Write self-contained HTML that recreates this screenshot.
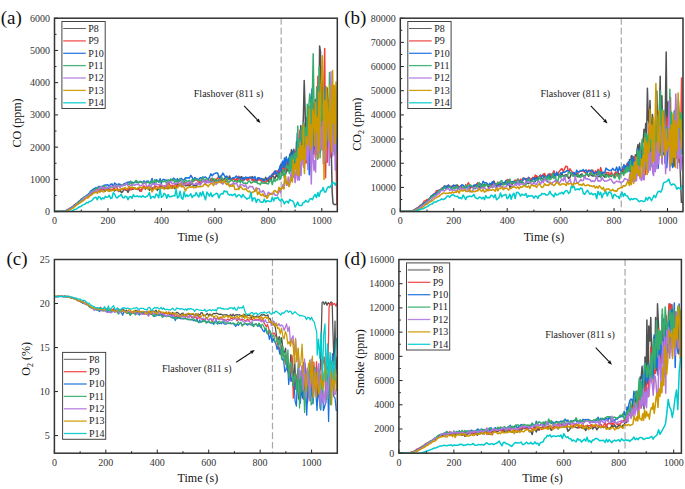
<!DOCTYPE html>
<html><head><meta charset="utf-8"><style>
html,body{margin:0;padding:0;background:#fff;}
body{width:685px;height:489px;overflow:hidden;font-family:"Liberation Serif", serif;}
svg{display:block;}
</style></head><body>
<svg width="685" height="489" viewBox="0 0 685 489" font-family='"Liberation Serif", serif'><rect width="685" height="489" fill="#fff"/><clipPath id="clipa"><rect x="54.5" y="18.2" width="282.80" height="193.40"/></clipPath><clipPath id="clipb"><rect x="400.3" y="18.2" width="282.70" height="193.40"/></clipPath><clipPath id="clipc"><rect x="54.4" y="259.5" width="282.90" height="193.70"/></clipPath><clipPath id="clipd"><rect x="398.9" y="259.5" width="282.50" height="193.70"/></clipPath><line x1="281.17" y1="18.2" x2="281.17" y2="211.6" stroke="#a8a8a8" stroke-width="1.2" stroke-dasharray="6.6,3.0"/><line x1="621.28" y1="18.2" x2="621.28" y2="211.6" stroke="#a8a8a8" stroke-width="1.2" stroke-dasharray="6.6,3.0"/><line x1="272.49" y1="259.5" x2="272.49" y2="453.2" stroke="#a8a8a8" stroke-width="1.2" stroke-dasharray="6.6,3.0"/><line x1="625.06" y1="259.5" x2="625.06" y2="453.2" stroke="#a8a8a8" stroke-width="1.2" stroke-dasharray="6.6,3.0"/><g clip-path="url(#clipa)"><g style="filter:blur(0.35px)"><polyline points="54.5,211.6 55.8,211.6 57.2,211.6 58.5,211.6 59.8,211.6 61.2,211.6 62.5,211.5 63.9,211.2 65.2,210.9 66.5,210.5 67.9,209.8 69.2,209.1 70.5,208.3 71.9,208.0 73.2,206.7 74.5,205.9 75.9,204.9 77.2,203.7 78.6,203.2 79.9,202.0 81.2,201.5 82.6,200.2 83.9,198.5 85.2,198.1 86.6,197.4 87.9,196.4 89.2,195.2 90.6,194.0 91.9,193.8 93.3,193.1 94.6,191.5 95.9,192.5 97.3,191.5 98.6,190.4 99.9,191.9 101.3,189.7 102.6,189.8 103.9,189.7 105.3,191.1 106.6,189.4 108.0,190.6 109.3,191.0 110.6,189.6 112.0,190.6 113.3,189.4 114.6,191.0 116.0,189.6 117.3,189.8 118.7,191.5 120.0,190.1 121.3,192.5 122.7,191.8 124.0,188.4 125.3,189.9 126.7,189.9 128.0,192.3 129.3,189.7 130.7,189.2 132.0,189.5 133.4,189.1 134.7,187.9 136.0,189.3 137.4,188.9 138.7,188.8 140.0,191.2 141.4,189.9 142.7,188.2 144.0,187.8 145.4,189.1 146.7,187.7 148.1,187.2 149.4,190.3 150.7,188.6 152.1,187.8 153.4,188.9 154.7,187.7 156.1,188.6 157.4,190.4 158.7,188.2 160.1,187.0 161.4,186.1 162.8,187.9 164.1,187.3 165.4,188.1 166.8,185.5 168.1,188.6 169.4,187.2 170.8,187.7 172.1,187.7 173.4,186.4 174.8,188.6 176.1,187.0 177.5,183.5 178.8,184.5 180.1,185.6 181.5,185.8 182.8,183.7 184.1,184.1 185.5,185.9 186.8,185.3 188.1,185.4 189.5,185.5 190.8,184.7 192.2,183.0 193.5,186.0 194.8,185.4 196.2,186.0 197.5,184.3 198.8,183.3 200.2,183.0 201.5,183.0 202.8,179.9 204.2,181.9 205.5,181.3 206.9,180.0 208.2,182.0 209.5,181.6 210.9,180.6 212.2,179.6 213.5,181.7 214.9,180.7 216.2,180.5 217.6,181.8 218.9,181.4 220.2,176.1 221.6,181.0 222.9,179.8 224.2,179.0 225.6,177.6 226.9,177.6 228.2,179.5 229.6,176.0 230.9,180.8 232.3,179.4 233.6,178.1 234.9,180.5 236.3,179.4 237.6,177.5 238.9,178.3 240.3,177.4 241.6,176.7 242.9,180.9 244.3,177.9 245.6,177.5 247.0,178.8 248.3,179.1 249.6,177.6 251.0,177.3 252.3,176.6 253.6,180.5 255.0,178.9 256.3,180.4 257.6,180.0 259.0,178.2 260.3,179.2 261.7,181.7 263.0,178.8 264.3,180.9 265.7,177.4 267.0,179.5 268.3,181.5 269.7,176.6 271.0,180.4 272.3,175.0 273.7,176.8 275.0,178.5 276.4,175.1 277.7,176.9 278.5,172.8 279.4,177.9 280.3,165.6 281.1,164.4 282.0,174.5 282.8,168.0 283.7,170.8 284.5,166.7 285.4,174.2 286.2,172.7 287.1,163.1 288.0,171.1 288.8,165.9 289.7,154.6 290.5,166.9 291.4,149.7 292.2,151.3 293.1,167.1 293.9,149.2 294.8,167.7 295.7,161.7 296.5,141.8 297.4,150.6 298.2,164.0 299.1,140.7 299.9,150.9 300.8,125.5 301.6,146.6 302.5,141.0 303.4,116.1 304.2,80.4 305.1,110.0 305.9,152.1 306.8,117.8 307.6,144.3 308.5,153.1 309.3,106.8 310.2,146.3 311.1,102.7 311.9,138.6 312.8,103.0 313.6,154.6 314.5,142.2 315.3,99.5 316.2,149.4 317.0,133.3 317.9,105.0 318.7,133.2 319.6,45.9 320.5,52.1 321.3,140.8 322.2,66.5 323.0,103.4 323.9,102.7 324.7,137.8 325.6,93.7 326.4,148.4 327.3,88.1 328.2,117.2 329.0,129.0 329.9,148.2 330.7,122.9 332.2,192.3 333.0,203.2 334.1,204.5 337.3,204.5" fill="none" stroke="#515151" stroke-width="1.5" stroke-linejoin="round"/><polyline points="54.5,211.6 55.8,211.6 57.2,211.6 58.5,211.6 59.8,211.6 61.2,211.6 62.5,211.4 63.9,211.1 65.2,210.7 66.5,210.2 67.9,209.4 69.2,208.8 70.5,208.0 71.9,207.0 73.2,206.0 74.5,204.9 75.9,203.8 77.2,203.5 78.6,201.8 79.9,201.0 81.2,199.1 82.6,199.0 83.9,197.8 85.2,197.2 86.6,195.8 87.9,195.3 89.2,194.3 90.6,193.0 91.9,192.5 93.3,191.6 94.6,190.7 95.9,189.0 97.3,188.8 98.6,189.8 99.9,189.1 101.3,189.1 102.6,189.7 103.9,187.6 105.3,189.0 106.6,188.9 108.0,187.5 109.3,190.0 110.6,189.3 112.0,189.5 113.3,189.0 114.6,188.2 116.0,186.5 117.3,188.4 118.7,190.5 120.0,189.7 121.3,188.8 122.7,188.6 124.0,189.4 125.3,189.7 126.7,188.9 128.0,189.7 129.3,187.5 130.7,189.7 132.0,188.8 133.4,187.9 134.7,188.0 136.0,188.8 137.4,189.6 138.7,188.8 140.0,189.4 141.4,191.2 142.7,187.5 144.0,185.8 145.4,188.1 146.7,186.6 148.1,188.0 149.4,186.2 150.7,187.9 152.1,189.7 153.4,189.1 154.7,186.0 156.1,186.2 157.4,187.1 158.7,188.8 160.1,184.2 161.4,185.3 162.8,188.0 164.1,186.0 165.4,185.5 166.8,188.8 168.1,183.2 169.4,184.0 170.8,186.8 172.1,185.4 173.4,187.1 174.8,184.0 176.1,186.0 177.5,185.7 178.8,186.4 180.1,183.4 181.5,183.3 182.8,183.6 184.1,185.0 185.5,182.8 186.8,182.9 188.1,185.2 189.5,183.4 190.8,183.2 192.2,181.3 193.5,180.6 194.8,180.4 196.2,179.9 197.5,180.2 198.8,183.2 200.2,181.1 201.5,179.4 202.8,180.7 204.2,181.4 205.5,182.9 206.9,178.5 208.2,182.2 209.5,181.9 210.9,178.7 212.2,178.5 213.5,179.9 214.9,179.1 216.2,179.8 217.6,178.0 218.9,176.5 220.2,182.5 221.6,179.6 222.9,179.3 224.2,179.8 225.6,181.6 226.9,181.0 228.2,177.8 229.6,179.0 230.9,179.1 232.3,180.3 233.6,178.8 234.9,179.7 236.3,179.3 237.6,181.3 238.9,176.2 240.3,180.2 241.6,179.9 242.9,180.0 244.3,179.6 245.6,178.0 247.0,180.2 248.3,179.9 249.6,178.2 251.0,178.2 252.3,180.8 253.6,178.8 255.0,180.9 256.3,182.3 257.6,180.1 259.0,180.0 260.3,179.8 261.7,181.1 263.0,181.9 264.3,180.9 265.7,183.5 267.0,179.5 268.3,177.9 269.7,178.8 271.0,176.4 272.3,174.7 273.7,172.3 275.0,174.3 276.4,170.9 277.7,171.9 278.5,170.0 279.4,171.9 280.3,167.2 281.1,170.9 282.0,165.6 282.8,171.5 283.7,165.0 284.5,169.9 285.4,167.6 286.2,161.2 287.1,167.7 288.0,169.2 288.8,169.6 289.7,165.3 290.5,167.8 291.4,157.6 292.2,169.3 293.1,160.9 293.9,150.7 294.8,160.5 295.7,151.2 296.5,160.3 297.4,159.0 298.2,142.9 299.1,166.5 299.9,130.3 300.8,151.1 301.6,149.5 302.5,136.0 303.4,165.6 304.2,124.1 305.1,149.2 305.9,163.2 306.8,160.5 307.6,116.3 308.5,160.6 309.3,155.5 310.2,108.2 311.1,152.0 311.9,157.4 312.8,102.6 313.6,103.1 314.5,108.7 315.3,157.8 316.2,112.4 317.0,154.3 317.9,76.2 318.7,104.8 319.6,110.0 320.5,84.1 321.3,147.7 322.2,106.9 323.0,127.4 323.9,92.0 324.7,48.5 325.6,177.8 326.4,114.1 327.3,162.3 328.2,131.9 329.0,99.0 329.9,157.6 330.7,154.7 331.6,102.4 332.4,143.2 333.3,110.3 334.1,151.1 335.0,100.4 335.9,150.1 336.9,204.2 337.3,204.2" fill="none" stroke="#F14040" stroke-width="1.5" stroke-linejoin="round"/><polyline points="54.5,211.6 55.8,211.6 57.2,211.6 58.5,211.6 59.8,211.6 61.2,211.6 62.5,211.6 63.9,211.3 65.2,210.9 66.5,210.6 67.9,209.8 69.2,208.9 70.5,208.2 71.9,207.1 73.2,206.4 74.5,205.1 75.9,204.2 77.2,203.0 78.6,201.7 79.9,200.7 81.2,199.6 82.6,198.4 83.9,197.3 85.2,196.8 86.6,195.4 87.9,194.7 89.2,193.2 90.6,191.2 91.9,190.4 93.3,189.1 94.6,188.5 95.9,187.6 97.3,188.0 98.6,186.5 99.9,186.5 101.3,186.7 102.6,186.3 103.9,185.5 105.3,185.0 106.6,184.9 108.0,184.8 109.3,186.9 110.6,184.2 112.0,183.9 113.3,186.9 114.6,183.0 116.0,184.1 117.3,184.8 118.7,184.0 120.0,184.3 121.3,185.2 122.7,185.8 124.0,183.5 125.3,183.5 126.7,182.5 128.0,182.2 129.3,182.0 130.7,182.4 132.0,182.1 133.4,182.9 134.7,182.1 136.0,181.8 137.4,182.6 138.7,182.4 140.0,181.6 141.4,181.8 142.7,182.9 144.0,180.9 145.4,183.3 146.7,181.2 148.1,181.0 149.4,182.9 150.7,182.0 152.1,178.5 153.4,184.0 154.7,182.7 156.1,179.7 157.4,180.5 158.7,182.2 160.1,178.8 161.4,183.3 162.8,179.4 164.1,179.5 165.4,180.1 166.8,180.2 168.1,181.4 169.4,180.4 170.8,180.0 172.1,180.6 173.4,178.2 174.8,179.1 176.1,181.4 177.5,178.6 178.8,181.9 180.1,179.4 181.5,178.4 182.8,180.0 184.1,180.1 185.5,177.7 186.8,177.9 188.1,177.7 189.5,178.0 190.8,175.4 192.2,177.5 193.5,180.5 194.8,177.5 196.2,178.5 197.5,179.3 198.8,179.6 200.2,177.7 201.5,178.0 202.8,177.0 204.2,177.6 205.5,177.0 206.9,178.5 208.2,179.9 209.5,177.2 210.9,173.9 212.2,175.7 213.5,174.2 214.9,173.4 216.2,173.0 217.6,172.9 218.9,177.3 220.2,177.4 221.6,175.7 222.9,173.1 224.2,175.4 225.6,177.2 226.9,176.1 228.2,178.4 229.6,178.8 230.9,179.5 232.3,177.9 233.6,177.7 234.9,177.5 236.3,176.1 237.6,177.5 238.9,177.1 240.3,179.0 241.6,178.8 242.9,177.4 244.3,179.8 245.6,177.2 247.0,177.5 248.3,177.8 249.6,177.3 251.0,177.9 252.3,178.3 253.6,177.7 255.0,176.6 256.3,182.0 257.6,177.8 259.0,177.9 260.3,178.6 261.7,178.6 263.0,180.1 264.3,180.6 265.7,179.2 267.0,179.0 268.3,178.5 269.7,176.3 271.0,176.3 272.3,174.2 273.7,174.2 275.0,170.8 276.4,174.6 277.7,171.9 278.5,171.8 279.4,168.2 280.2,166.2 281.1,171.3 281.9,163.2 282.8,161.1 283.6,167.3 284.5,157.9 285.3,167.3 286.2,156.8 287.0,159.7 287.9,162.9 288.8,158.1 289.6,159.1 290.5,152.9 291.3,164.8 292.2,158.9 293.0,154.9 293.9,150.2 294.7,164.0 295.6,158.6 296.5,154.0 297.3,133.0 298.2,148.4 299.0,141.5 299.9,154.2 300.7,138.3 301.6,157.7 302.4,147.2 303.3,132.6 304.2,153.7 305.0,134.3 305.9,143.3 306.7,127.5 307.6,119.8 308.4,147.0 309.3,174.8 310.1,158.3 311.0,144.6 311.9,89.1 312.7,120.6 313.6,150.0 314.4,123.7 315.3,133.0 316.1,118.9 317.0,145.9 317.8,158.3 318.7,114.9 319.6,131.3 320.4,152.0 321.3,94.9 322.1,137.6 323.0,142.5 323.8,102.1 324.7,162.5 325.5,86.9 326.4,148.6 327.2,130.8 328.1,139.4 329.0,119.5 329.8,92.3 330.7,118.4 331.5,102.2 332.4,119.9 333.2,145.3 334.1,107.6 334.9,115.1 335.8,152.2 336.7,102.1" fill="none" stroke="#1A6FDF" stroke-width="1.5" stroke-linejoin="round"/><polyline points="54.5,211.6 55.8,211.6 57.2,211.6 58.5,211.6 59.8,211.6 61.2,211.6 62.5,211.6 63.9,211.4 65.2,211.1 66.5,210.7 67.9,210.1 69.2,209.3 70.5,208.6 71.9,207.8 73.2,206.8 74.5,205.6 75.9,204.8 77.2,203.0 78.6,203.1 79.9,200.9 81.2,200.0 82.6,198.8 83.9,197.5 85.2,197.2 86.6,196.1 87.9,195.8 89.2,194.2 90.6,192.1 91.9,191.5 93.3,190.5 94.6,189.9 95.9,188.5 97.3,188.0 98.6,188.5 99.9,186.9 101.3,188.2 102.6,188.3 103.9,185.6 105.3,187.4 106.6,187.0 108.0,188.1 109.3,188.1 110.6,187.0 112.0,187.0 113.3,186.7 114.6,185.0 116.0,185.7 117.3,186.8 118.7,185.3 120.0,187.2 121.3,184.7 122.7,184.7 124.0,184.9 125.3,185.0 126.7,183.4 128.0,184.0 129.3,184.6 130.7,181.1 132.0,185.7 133.4,182.9 134.7,182.6 136.0,180.3 137.4,181.6 138.7,182.9 140.0,181.4 141.4,182.3 142.7,183.4 144.0,182.1 145.4,183.1 146.7,182.8 148.1,181.7 149.4,183.3 150.7,183.7 152.1,180.6 153.4,184.3 154.7,179.7 156.1,182.1 157.4,180.8 158.7,181.3 160.1,182.0 161.4,181.0 162.8,181.2 164.1,181.8 165.4,180.6 166.8,184.6 168.1,179.6 169.4,181.8 170.8,178.9 172.1,180.6 173.4,179.8 174.8,182.3 176.1,179.6 177.5,182.6 178.8,180.2 180.1,178.5 181.5,182.2 182.8,181.5 184.1,182.8 185.5,179.9 186.8,181.1 188.1,181.6 189.5,180.2 190.8,183.6 192.2,179.5 193.5,181.7 194.8,179.1 196.2,179.3 197.5,179.7 198.8,180.5 200.2,180.6 201.5,180.6 202.8,177.1 204.2,180.7 205.5,179.8 206.9,178.5 208.2,180.2 209.5,181.4 210.9,182.9 212.2,178.1 213.5,179.2 214.9,179.7 216.2,182.4 217.6,180.2 218.9,179.7 220.2,180.1 221.6,176.9 222.9,180.0 224.2,181.2 225.6,180.0 226.9,177.7 228.2,183.5 229.6,181.4 230.9,180.1 232.3,180.4 233.6,182.1 234.9,181.0 236.3,181.1 237.6,182.3 238.9,180.1 240.3,182.6 241.6,180.2 242.9,182.6 244.3,183.6 245.6,183.0 247.0,183.6 248.3,181.6 249.6,180.8 251.0,183.1 252.3,182.4 253.6,181.5 255.0,182.2 256.3,181.4 257.6,183.5 259.0,183.5 260.3,184.7 261.7,181.8 263.0,183.3 264.3,183.2 265.7,182.6 267.0,183.6 268.3,183.9 269.7,181.1 271.0,179.8 272.3,184.5 273.7,178.5 275.0,181.5 276.4,179.4 277.7,180.0 279.0,173.6 279.9,179.6 280.7,178.7 281.6,173.2 282.5,175.3 283.3,169.7 284.2,177.5 285.0,178.5 285.9,168.7 286.7,165.0 287.6,167.9 288.4,166.0 289.3,173.4 290.1,157.1 291.0,172.3 291.9,155.0 292.7,170.9 293.6,157.7 294.4,153.2 295.3,162.0 296.1,152.6 297.0,167.9 297.8,126.0 298.7,165.6 299.6,139.7 300.4,152.3 301.3,129.5 302.1,126.8 303.0,144.5 303.8,122.8 304.7,141.5 305.5,127.8 306.4,156.4 307.3,104.2 308.1,156.0 309.0,104.0 309.8,93.8 310.7,100.3 311.5,156.8 312.4,93.7 313.2,53.7 314.1,111.6 315.0,145.9 315.8,126.1 316.7,86.8 317.5,159.2 318.4,151.7 319.2,66.5 320.1,157.8 320.9,91.2 321.8,112.3 322.7,129.1 323.5,90.4 324.4,136.2 325.2,151.7 326.1,87.0 326.9,129.4 327.8,116.3 328.6,140.2 329.5,72.6 330.4,94.0 331.2,136.9 332.1,106.2 332.9,139.6 333.8,114.7 334.6,154.7 335.5,143.6 336.3,119.5 337.2,100.2" fill="none" stroke="#37AD6B" stroke-width="1.5" stroke-linejoin="round"/><polyline points="54.5,211.6 55.8,211.6 57.2,211.6 58.5,211.6 59.8,211.6 61.2,211.6 62.5,211.6 63.9,211.4 65.2,211.1 66.5,210.9 67.9,210.2 69.2,209.5 70.5,208.8 71.9,208.1 73.2,207.2 74.5,206.0 75.9,205.5 77.2,203.9 78.6,203.8 79.9,202.2 81.2,201.5 82.6,199.5 83.9,199.1 85.2,197.3 86.6,196.3 87.9,196.2 89.2,194.9 90.6,193.4 91.9,191.7 93.3,192.1 94.6,191.0 95.9,190.8 97.3,191.2 98.6,189.9 99.9,187.7 101.3,186.6 102.6,188.9 103.9,187.2 105.3,188.6 106.6,188.0 108.0,187.5 109.3,187.1 110.6,185.8 112.0,186.7 113.3,186.1 114.6,185.4 116.0,187.5 117.3,185.1 118.7,185.9 120.0,187.5 121.3,185.4 122.7,185.3 124.0,185.2 125.3,184.1 126.7,183.4 128.0,185.8 129.3,186.5 130.7,185.4 132.0,184.2 133.4,184.6 134.7,185.5 136.0,184.2 137.4,184.5 138.7,184.4 140.0,185.9 141.4,185.4 142.7,184.6 144.0,182.9 145.4,183.7 146.7,185.8 148.1,187.0 149.4,184.2 150.7,187.8 152.1,184.1 153.4,183.6 154.7,185.0 156.1,183.5 157.4,184.6 158.7,184.7 160.1,184.4 161.4,184.6 162.8,185.8 164.1,186.0 165.4,187.0 166.8,184.0 168.1,181.6 169.4,182.8 170.8,181.7 172.1,184.0 173.4,183.0 174.8,184.1 176.1,183.1 177.5,183.1 178.8,183.0 180.1,185.7 181.5,181.3 182.8,185.3 184.1,185.0 185.5,184.2 186.8,183.0 188.1,183.6 189.5,182.5 190.8,181.7 192.2,184.3 193.5,184.3 194.8,184.4 196.2,182.9 197.5,184.2 198.8,183.6 200.2,185.3 201.5,183.1 202.8,180.0 204.2,181.0 205.5,184.5 206.9,180.1 208.2,182.9 209.5,181.3 210.9,183.1 212.2,183.0 213.5,181.8 214.9,183.9 216.2,184.4 217.6,181.9 218.9,182.4 220.2,181.7 221.6,183.1 222.9,184.1 224.2,181.9 225.6,182.3 226.9,184.5 228.2,183.7 229.6,186.2 230.9,184.4 232.3,184.1 233.6,182.8 234.9,184.0 236.3,182.7 237.6,185.7 238.9,188.1 240.3,184.2 241.6,184.7 242.9,184.9 244.3,186.4 245.6,184.9 247.0,187.8 248.3,188.5 249.6,186.2 251.0,186.9 252.3,186.4 253.6,188.7 255.0,191.1 256.3,187.8 257.6,188.9 259.0,188.5 260.3,191.7 261.7,192.0 263.0,190.5 264.3,192.5 265.7,195.9 267.0,196.0 268.3,192.3 269.7,193.6 271.0,193.1 272.3,194.7 273.7,192.6 275.0,195.2 276.4,195.3 277.7,195.0 279.0,189.7 280.4,192.6 281.7,187.5 282.2,188.3 283.1,184.5 283.9,188.6 284.8,179.5 285.7,180.4 286.5,185.3 287.4,185.1 288.2,177.1 289.1,186.3 289.9,181.8 290.8,173.7 291.6,180.7 292.5,167.8 293.4,177.5 294.2,168.1 295.1,182.6 295.9,174.2 296.8,163.3 297.6,180.0 298.5,159.4 299.3,180.3 300.2,162.0 301.1,175.5 301.9,150.2 302.8,157.4 303.6,167.3 304.5,149.3 305.3,149.3 306.2,159.9 307.0,136.4 307.9,169.6 308.8,130.7 309.6,133.8 310.5,159.0 311.3,183.9 312.2,135.9 313.0,155.5 313.9,170.2 314.7,160.7 315.6,172.1 316.5,122.8 317.3,150.8 318.2,131.0 319.0,153.4 319.9,145.6 320.7,126.4 321.6,149.7 322.4,121.6 323.3,163.9 324.1,156.0 325.0,123.3 325.9,161.8 326.7,106.5 327.6,116.8 328.4,117.4 329.3,165.4 330.1,113.2 331.0,71.7 331.8,134.1 332.7,155.9 333.6,143.9 334.4,106.8 335.3,169.9 336.1,109.9 337.0,118.4" fill="none" stroke="#B177DE" stroke-width="1.5" stroke-linejoin="round"/><polyline points="54.5,211.6 55.8,211.6 57.2,211.6 58.5,211.6 59.8,211.6 61.2,211.6 62.5,211.6 63.9,211.5 65.2,211.3 66.5,211.1 67.9,210.7 69.2,210.0 70.5,209.3 71.9,208.7 73.2,208.0 74.5,207.0 75.9,205.6 77.2,204.7 78.6,203.6 79.9,203.1 81.2,201.7 82.6,201.2 83.9,200.3 85.2,199.2 86.6,197.1 87.9,198.1 89.2,196.6 90.6,195.2 91.9,194.7 93.3,193.3 94.6,192.8 95.9,192.0 97.3,193.2 98.6,191.4 99.9,191.6 101.3,190.7 102.6,191.8 103.9,192.0 105.3,190.8 106.6,190.0 108.0,190.8 109.3,190.5 110.6,191.0 112.0,190.1 113.3,190.5 114.6,189.7 116.0,189.5 117.3,189.6 118.7,190.6 120.0,189.3 121.3,189.6 122.7,188.4 124.0,188.4 125.3,187.5 126.7,189.1 128.0,188.2 129.3,186.7 130.7,187.9 132.0,187.0 133.4,187.9 134.7,187.7 136.0,189.3 137.4,188.1 138.7,187.4 140.0,187.2 141.4,187.5 142.7,187.3 144.0,188.4 145.4,187.2 146.7,188.1 148.1,189.2 149.4,186.8 150.7,188.2 152.1,191.9 153.4,189.4 154.7,188.2 156.1,189.1 157.4,188.1 158.7,187.2 160.1,189.2 161.4,188.4 162.8,186.5 164.1,189.4 165.4,188.4 166.8,187.5 168.1,185.5 169.4,188.6 170.8,187.0 172.1,188.6 173.4,187.8 174.8,185.7 176.1,187.9 177.5,187.9 178.8,185.6 180.1,183.4 181.5,187.1 182.8,186.1 184.1,187.3 185.5,190.9 186.8,188.0 188.1,187.7 189.5,186.7 190.8,187.3 192.2,186.5 193.5,187.7 194.8,187.6 196.2,187.4 197.5,186.7 198.8,186.6 200.2,186.8 201.5,186.5 202.8,186.2 204.2,184.2 205.5,184.5 206.9,185.0 208.2,186.6 209.5,184.7 210.9,183.7 212.2,183.3 213.5,185.6 214.9,182.4 216.2,182.2 217.6,182.9 218.9,181.9 220.2,181.6 221.6,182.9 222.9,182.1 224.2,180.4 225.6,183.3 226.9,184.7 228.2,182.8 229.6,186.7 230.9,185.7 232.3,186.3 233.6,184.5 234.9,189.5 236.3,189.4 237.6,189.1 238.9,189.4 240.3,186.4 241.6,187.6 242.9,189.3 244.3,189.6 245.6,188.7 247.0,190.5 248.3,191.7 249.6,191.1 251.0,193.6 252.3,192.4 253.6,191.8 255.0,191.4 256.3,188.1 257.6,194.6 259.0,191.8 260.3,194.9 261.7,195.5 263.0,193.8 264.3,196.6 265.7,195.8 267.0,198.4 268.3,196.1 269.7,194.0 271.0,194.2 272.3,194.2 273.7,191.2 275.0,190.5 276.4,191.9 277.7,193.0 279.0,187.3 280.4,190.1 281.7,187.8 283.0,187.5 283.8,189.0 284.7,177.3 285.6,175.4 286.4,183.7 287.3,181.8 288.1,183.9 289.0,186.6 289.8,184.5 290.7,177.2 291.5,179.0 292.4,182.1 293.2,159.9 294.1,174.6 295.0,163.8 295.8,169.0 296.7,158.7 297.5,174.9 298.4,148.4 299.2,175.5 300.1,142.2 300.9,160.7 301.8,145.7 302.7,159.3 303.5,125.3 304.4,173.6 305.2,154.9 306.1,136.4 306.9,142.1 307.8,145.2 308.6,129.4 309.5,108.1 310.4,149.8 311.2,125.0 312.1,146.6 312.9,109.4 313.8,115.0 314.6,145.8 315.5,102.5 316.3,131.7 317.2,117.2 318.1,158.3 318.9,92.0 319.8,150.1 320.6,99.5 321.5,76.2 322.3,55.7 323.2,91.1 324.0,179.4 324.9,100.3 325.8,149.8 326.6,87.2 327.5,112.5 328.3,140.7 329.2,110.0 330.0,85.1 330.9,140.0 331.7,152.0 332.6,70.4 333.5,123.1 334.3,85.2 335.2,143.6 336.0,82.0 336.9,138.1" fill="none" stroke="#CC9900" stroke-width="1.5" stroke-linejoin="round"/><polyline points="54.5,211.6 55.8,211.6 57.2,211.6 58.5,211.6 59.8,211.6 61.2,211.6 62.5,211.6 63.9,211.6 65.2,211.6 66.5,211.6 67.9,211.6 69.2,211.5 70.5,211.3 71.9,211.0 73.2,210.3 74.5,209.4 75.9,209.2 77.2,208.3 78.6,207.3 79.9,206.7 81.2,206.2 82.6,205.1 83.9,204.6 85.2,203.8 86.6,202.5 87.9,202.9 89.2,201.4 90.6,201.2 91.9,200.6 93.3,198.7 94.6,197.6 95.9,197.2 97.3,199.8 98.6,196.6 99.9,197.2 101.3,199.7 102.6,197.8 103.9,198.8 105.3,196.3 106.6,197.3 108.0,197.1 109.3,195.2 110.6,198.6 112.0,198.0 113.3,192.8 114.6,194.0 116.0,197.2 117.3,198.0 118.7,196.2 120.0,195.7 121.3,194.2 122.7,197.7 124.0,197.7 125.3,196.2 126.7,196.6 128.0,199.8 129.3,196.9 130.7,196.5 132.0,198.3 133.4,194.8 134.7,196.6 136.0,196.6 137.4,195.7 138.7,196.8 140.0,196.1 141.4,197.2 142.7,195.6 144.0,196.8 145.4,197.2 146.7,196.4 148.1,195.3 149.4,192.5 150.7,198.5 152.1,196.8 153.4,196.6 154.7,197.9 156.1,193.9 157.4,195.2 158.7,197.8 160.1,189.2 161.4,197.5 162.8,196.5 164.1,193.4 165.4,194.3 166.8,198.2 168.1,194.4 169.4,196.7 170.8,196.8 172.1,196.2 173.4,195.6 174.8,196.1 176.1,189.5 177.5,198.0 178.8,196.7 180.1,191.3 181.5,198.0 182.8,199.3 184.1,191.7 185.5,196.9 186.8,194.8 188.1,196.5 189.5,195.5 190.8,193.7 192.2,197.5 193.5,195.4 194.8,195.9 196.2,192.6 197.5,195.2 198.8,197.1 200.2,192.5 201.5,196.0 202.8,191.6 204.2,195.9 205.5,199.8 206.9,192.1 208.2,194.0 209.5,196.1 210.9,192.9 212.2,196.7 213.5,195.2 214.9,194.3 216.2,193.2 217.6,193.7 218.9,198.0 220.2,194.8 221.6,193.5 222.9,194.1 224.2,190.8 225.6,191.8 226.9,191.3 228.2,194.3 229.6,195.2 230.9,194.4 232.3,195.6 233.6,194.6 234.9,193.9 236.3,196.9 237.6,195.7 238.9,194.8 240.3,195.6 241.6,197.5 242.9,194.3 244.3,196.6 245.6,197.7 247.0,199.1 248.3,198.2 249.6,198.1 251.0,192.3 252.3,201.1 253.6,197.9 255.0,198.1 256.3,202.5 257.6,199.4 259.0,199.5 260.3,201.8 261.7,202.3 263.0,202.3 264.3,199.1 265.7,202.2 267.0,200.7 268.3,201.0 269.7,201.5 271.0,201.5 272.3,197.1 273.7,201.0 275.0,197.9 276.4,198.6 277.7,197.1 279.0,199.6 280.4,200.9 281.7,198.9 283.0,200.9 284.4,204.0 285.7,201.7 287.0,201.3 288.4,203.1 289.7,199.4 291.1,200.6 292.4,200.7 293.7,202.4 295.1,207.1 296.4,204.9 297.7,202.1 299.1,205.5 300.4,205.4 301.7,205.6 303.1,202.5 304.4,202.6 305.8,200.4 307.1,201.7 308.4,201.9 309.8,198.9 311.1,198.6 312.4,199.8 313.8,196.4 315.1,194.4 316.5,197.6 317.8,192.6 319.1,196.6 320.5,191.0 321.8,191.1 323.1,187.4 324.5,192.1 325.8,192.0 327.1,188.2 328.5,186.6 329.8,187.6 331.2,185.2 332.5,182.8 333.8,182.5 335.2,185.1 336.5,182.7" fill="none" stroke="#00CBCC" stroke-width="1.5" stroke-linejoin="round"/></g></g><g clip-path="url(#clipb)"><g style="filter:blur(0.35px)"><polyline points="400.3,211.6 401.6,211.6 403.0,211.6 404.3,211.6 405.6,211.6 407.0,211.6 408.3,211.6 409.7,211.5 411.0,211.2 412.3,210.9 413.7,210.4 415.0,209.7 416.3,209.0 417.7,208.5 419.0,207.6 420.3,206.2 421.7,205.0 423.0,204.2 424.3,203.1 425.7,202.5 427.0,199.9 428.4,200.2 429.7,198.5 431.0,197.1 432.4,195.4 433.7,194.7 435.0,193.7 436.4,193.5 437.7,192.5 439.0,190.3 440.4,190.6 441.7,188.4 443.1,187.9 444.4,185.8 445.7,186.7 447.1,186.0 448.4,186.6 449.7,186.8 451.1,187.1 452.4,186.3 453.7,185.4 455.1,185.7 456.4,185.1 457.7,185.3 459.1,189.1 460.4,187.0 461.8,188.3 463.1,188.1 464.4,188.2 465.8,184.9 467.1,187.4 468.4,188.9 469.8,188.5 471.1,187.0 472.4,187.6 473.8,185.2 475.1,187.8 476.5,184.6 477.8,182.9 479.1,187.5 480.5,183.8 481.8,186.0 483.1,185.4 484.5,184.4 485.8,185.0 487.1,183.8 488.5,187.8 489.8,184.4 491.1,185.7 492.5,184.5 493.8,181.0 495.2,184.6 496.5,183.9 497.8,185.5 499.2,182.9 500.5,183.2 501.8,184.6 503.2,184.1 504.5,182.7 505.8,183.3 507.2,182.3 508.5,180.1 509.9,187.4 511.2,186.1 512.5,183.6 513.9,181.4 515.2,180.4 516.5,183.1 517.9,181.6 519.2,182.1 520.5,181.9 521.9,183.0 523.2,178.0 524.5,179.1 525.9,178.6 527.2,183.1 528.6,183.5 529.9,182.5 531.2,179.0 532.6,179.5 533.9,177.6 535.2,178.5 536.6,176.1 537.9,180.2 539.2,176.7 540.6,175.1 541.9,178.4 543.3,180.0 544.6,174.8 545.9,176.2 547.3,176.5 548.6,174.4 549.9,177.6 551.3,174.3 552.6,177.4 553.9,174.9 555.3,174.7 556.6,173.3 557.9,173.5 559.3,175.6 560.6,175.8 562.0,173.5 563.3,176.5 564.6,175.4 566.0,174.7 567.3,175.6 568.6,178.4 570.0,177.2 571.3,173.4 572.6,173.8 574.0,175.1 575.3,174.5 576.7,174.8 578.0,176.9 579.3,176.1 580.7,174.4 582.0,173.9 583.3,176.6 584.7,176.2 586.0,174.5 587.3,174.0 588.7,176.3 590.0,172.9 591.3,175.3 592.7,176.0 594.0,175.9 595.4,172.2 596.7,174.1 598.0,176.5 599.4,176.3 600.7,176.6 602.0,174.3 603.4,176.0 604.7,177.3 606.0,174.1 607.4,174.4 608.7,175.4 610.1,174.4 611.4,176.5 612.7,174.1 614.1,176.3 615.4,173.6 616.7,173.9 618.1,173.1 619.4,174.4 620.7,173.4 622.1,171.2 622.6,170.7 623.5,174.2 624.3,169.8 625.2,168.5 626.0,170.6 626.9,164.3 627.7,163.2 628.6,169.3 629.5,159.5 630.3,172.0 631.2,156.2 632.0,155.7 632.9,167.3 633.7,158.8 634.6,164.5 635.4,154.8 636.3,161.5 637.1,149.6 638.0,144.6 638.9,167.4 639.7,143.1 640.6,164.5 641.4,159.4 642.3,139.6 643.1,142.3 644.0,129.2 644.8,148.4 645.7,123.4 646.6,137.0 647.4,88.3 648.3,119.6 649.1,123.1 650.0,100.4 650.8,125.9 651.7,143.3 652.5,114.6 653.4,146.0 654.2,161.0 655.1,158.5 656.0,154.3 656.8,90.9 657.7,131.3 658.5,117.4 659.4,111.4 660.2,76.2 661.1,147.7 661.9,95.7 662.8,136.0 663.7,115.4 664.5,133.6 665.4,106.1 666.2,52.0 667.1,146.0 667.9,102.1 668.8,145.9 669.6,117.5 670.5,157.8 671.3,128.6 672.2,129.5 673.1,128.8 673.9,166.5 674.8,164.9 675.6,139.2 676.5,158.2 677.3,134.5 678.2,159.7 679.0,135.7 681.4,202.2 683.0,202.4" fill="none" stroke="#515151" stroke-width="1.5" stroke-linejoin="round"/><polyline points="400.3,211.6 401.6,211.6 403.0,211.6 404.3,211.6 405.6,211.6 407.0,211.6 408.3,211.6 409.7,211.3 411.0,211.0 412.3,210.6 413.7,210.0 415.0,209.3 416.3,208.2 417.7,207.7 419.0,206.5 420.3,205.4 421.7,204.7 423.0,203.3 424.3,200.9 425.7,200.7 427.0,199.7 428.4,199.1 429.7,198.6 431.0,197.3 432.4,195.6 433.7,194.4 435.0,193.4 436.4,190.8 437.7,190.6 439.0,190.6 440.4,189.7 441.7,188.5 443.1,187.7 444.4,187.8 445.7,187.6 447.1,187.4 448.4,185.7 449.7,185.9 451.1,186.4 452.4,186.0 453.7,188.5 455.1,187.1 456.4,186.4 457.7,188.3 459.1,187.7 460.4,185.8 461.8,187.2 463.1,187.2 464.4,187.1 465.8,187.0 467.1,185.1 468.4,182.7 469.8,185.6 471.1,187.3 472.4,187.4 473.8,187.0 475.1,187.8 476.5,184.1 477.8,183.4 479.1,185.7 480.5,185.3 481.8,186.6 483.1,187.2 484.5,185.9 485.8,184.6 487.1,184.6 488.5,185.6 489.8,185.9 491.1,185.2 492.5,182.1 493.8,183.1 495.2,184.0 496.5,185.7 497.8,182.0 499.2,185.3 500.5,185.4 501.8,182.9 503.2,183.1 504.5,182.6 505.8,183.4 507.2,179.4 508.5,180.3 509.9,182.9 511.2,183.1 512.5,182.9 513.9,182.2 515.2,180.2 516.5,181.0 517.9,179.0 519.2,181.9 520.5,179.2 521.9,179.4 523.2,180.1 524.5,178.6 525.9,179.1 527.2,179.0 528.6,177.4 529.9,178.5 531.2,180.4 532.6,177.4 533.9,179.7 535.2,175.0 536.6,176.0 537.9,176.9 539.2,176.8 540.6,175.8 541.9,176.1 543.3,174.1 544.6,173.5 545.9,178.9 547.3,175.7 548.6,174.8 549.9,173.6 551.3,176.6 552.6,173.7 553.9,170.8 555.3,176.4 556.6,174.3 557.9,173.7 559.3,171.4 560.6,169.7 562.0,168.6 563.3,171.7 564.6,168.7 566.0,166.1 567.3,166.6 568.6,172.4 570.0,168.8 571.3,170.9 572.6,172.4 574.0,174.6 575.3,173.7 576.7,173.2 578.0,173.2 579.3,171.7 580.7,170.7 582.0,170.9 583.3,170.9 584.7,172.4 586.0,173.2 587.3,171.4 588.7,169.9 590.0,170.6 591.3,173.3 592.7,170.0 594.0,174.0 595.4,170.9 596.7,173.4 598.0,169.3 599.4,173.2 600.7,167.6 602.0,172.3 603.4,173.0 604.7,172.7 606.0,172.6 607.4,172.7 608.7,172.6 610.1,176.6 611.4,172.0 612.7,175.2 614.1,175.6 615.4,171.9 616.7,172.0 618.1,176.3 619.4,174.6 620.7,173.1 622.1,170.1 622.6,167.7 623.5,170.7 624.3,168.0 625.2,170.9 626.0,170.6 626.9,163.9 627.7,169.6 628.6,165.8 629.5,163.9 630.3,161.2 631.2,166.8 632.0,164.1 632.9,168.5 633.7,156.7 634.6,166.2 635.4,156.4 636.3,171.4 637.1,168.9 638.0,168.5 638.9,151.1 639.7,169.0 640.6,151.0 641.4,163.3 642.3,164.1 643.1,150.4 644.0,163.1 644.8,160.7 645.7,174.5 646.6,155.4 647.4,148.7 648.3,161.0 649.1,123.6 650.0,167.8 650.8,155.0 651.7,136.9 652.5,153.5 653.4,135.8 654.2,156.6 655.1,165.8 656.0,154.0 656.8,154.6 657.7,130.7 658.5,160.0 659.4,111.2 660.2,148.0 661.1,117.8 661.9,162.5 662.8,111.5 663.7,123.2 664.5,114.0 665.4,154.8 666.2,149.8 667.1,117.7 667.9,140.9 668.8,119.6 669.6,165.7 670.5,97.2 671.3,152.3 672.2,120.7 673.1,162.4 673.9,118.8 674.8,110.2 675.6,157.8 676.5,126.6 677.3,154.0 678.2,162.2 679.0,128.3 679.9,141.6 680.8,125.9 681.6,77.9 682.5,143.3" fill="none" stroke="#F14040" stroke-width="1.5" stroke-linejoin="round"/><polyline points="400.3,211.6 401.6,211.6 403.0,211.6 404.3,211.6 405.6,211.6 407.0,211.6 408.3,211.6 409.7,211.5 411.0,211.2 412.3,210.9 413.7,210.6 415.0,209.7 416.3,208.9 417.7,208.3 419.0,207.2 420.3,206.2 421.7,204.9 423.0,203.8 424.3,203.0 425.7,202.3 427.0,201.0 428.4,200.3 429.7,198.7 431.0,196.1 432.4,195.9 433.7,194.3 435.0,194.2 436.4,193.1 437.7,191.4 439.0,190.6 440.4,189.8 441.7,189.2 443.1,187.5 444.4,187.9 445.7,186.5 447.1,187.7 448.4,184.9 449.7,186.9 451.1,188.0 452.4,186.5 453.7,185.1 455.1,186.1 456.4,186.9 457.7,189.0 459.1,187.4 460.4,186.8 461.8,184.7 463.1,185.3 464.4,187.0 465.8,187.8 467.1,186.8 468.4,188.9 469.8,185.6 471.1,186.2 472.4,186.6 473.8,186.3 475.1,184.7 476.5,184.9 477.8,186.8 479.1,186.7 480.5,187.5 481.8,184.9 483.1,181.3 484.5,183.1 485.8,182.6 487.1,183.4 488.5,185.6 489.8,183.3 491.1,184.2 492.5,181.7 493.8,183.6 495.2,183.7 496.5,187.0 497.8,186.0 499.2,183.5 500.5,185.1 501.8,183.5 503.2,182.7 504.5,183.1 505.8,180.5 507.2,185.2 508.5,183.3 509.9,180.4 511.2,182.1 512.5,181.6 513.9,182.2 515.2,181.5 516.5,184.6 517.9,179.3 519.2,183.3 520.5,180.8 521.9,182.4 523.2,179.1 524.5,178.2 525.9,179.4 527.2,182.5 528.6,177.5 529.9,180.7 531.2,181.6 532.6,178.9 533.9,177.8 535.2,181.8 536.6,178.2 537.9,179.5 539.2,178.1 540.6,179.1 541.9,176.2 543.3,175.5 544.6,178.5 545.9,176.7 547.3,177.4 548.6,174.5 549.9,176.7 551.3,178.1 552.6,176.0 553.9,173.5 555.3,177.4 556.6,172.1 557.9,175.6 559.3,176.2 560.6,172.7 562.0,173.5 563.3,172.1 564.6,172.3 566.0,171.4 567.3,170.4 568.6,170.7 570.0,172.2 571.3,173.8 572.6,174.3 574.0,172.3 575.3,175.2 576.7,170.3 578.0,172.0 579.3,171.8 580.7,170.5 582.0,170.7 583.3,169.6 584.7,171.5 586.0,169.9 587.3,172.5 588.7,171.1 590.0,171.1 591.3,170.0 592.7,171.3 594.0,173.5 595.4,173.0 596.7,172.2 598.0,172.1 599.4,175.1 600.7,171.9 602.0,174.3 603.4,172.3 604.7,172.7 606.0,168.1 607.4,169.5 608.7,170.2 610.1,170.6 611.4,170.4 612.7,168.4 614.1,170.0 615.4,170.4 616.7,167.1 618.1,172.2 619.4,166.8 620.7,170.8 622.1,169.7 623.1,167.0 624.0,164.6 624.9,169.2 625.7,165.8 626.6,170.9 627.4,168.2 628.3,161.8 629.1,171.5 630.0,161.2 630.8,167.8 631.7,158.8 632.6,165.4 633.4,157.0 634.3,161.9 635.1,169.8 636.0,159.2 636.8,164.2 637.7,162.9 638.5,154.4 639.4,148.7 640.2,148.9 641.1,164.6 642.0,153.7 642.8,159.4 643.7,153.8 644.5,167.3 645.4,152.2 646.2,168.6 647.1,159.8 647.9,164.4 648.8,147.9 649.7,165.0 650.5,148.8 651.4,154.4 652.2,154.5 653.1,142.3 653.9,158.9 654.8,142.8 655.6,130.5 656.5,158.6 657.3,128.5 658.2,168.2 659.1,135.2 659.9,155.5 660.8,139.6 661.6,149.9 662.5,131.1 663.3,154.7 664.2,136.6 665.0,163.2 665.9,127.5 666.8,167.8 667.6,154.7 668.5,124.2 669.3,137.3 670.2,160.3 671.0,165.1 671.9,121.6 672.7,167.4 673.6,142.4 674.4,124.0 675.3,138.9 676.2,153.7 677.0,149.2 677.9,131.4 678.7,152.1 679.6,136.4 680.4,150.4 681.3,142.1 682.1,153.1 683.0,123.2" fill="none" stroke="#1A6FDF" stroke-width="1.5" stroke-linejoin="round"/><polyline points="400.3,211.6 401.6,211.6 403.0,211.6 404.3,211.6 405.6,211.6 407.0,211.6 408.3,211.6 409.7,211.6 411.0,211.4 412.3,211.0 413.7,210.7 415.0,209.9 416.3,209.4 417.7,208.7 419.0,207.9 420.3,206.8 421.7,205.8 423.0,204.8 424.3,204.1 425.7,202.5 427.0,201.7 428.4,200.5 429.7,198.7 431.0,197.4 432.4,196.8 433.7,195.5 435.0,194.8 436.4,194.6 437.7,192.6 439.0,190.7 440.4,190.6 441.7,189.0 443.1,189.6 444.4,187.2 445.7,188.8 447.1,188.4 448.4,188.4 449.7,186.6 451.1,189.2 452.4,189.6 453.7,187.6 455.1,188.9 456.4,186.4 457.7,187.7 459.1,187.9 460.4,188.5 461.8,188.2 463.1,186.9 464.4,189.5 465.8,185.7 467.1,186.3 468.4,186.2 469.8,184.6 471.1,185.4 472.4,186.6 473.8,188.5 475.1,188.9 476.5,186.0 477.8,186.6 479.1,182.5 480.5,185.6 481.8,187.6 483.1,184.2 484.5,187.2 485.8,184.0 487.1,185.7 488.5,185.2 489.8,185.6 491.1,186.4 492.5,187.8 493.8,186.5 495.2,185.2 496.5,184.2 497.8,182.6 499.2,183.2 500.5,181.4 501.8,180.5 503.2,185.1 504.5,184.5 505.8,184.3 507.2,181.3 508.5,182.5 509.9,179.0 511.2,183.6 512.5,182.8 513.9,183.5 515.2,181.4 516.5,182.0 517.9,179.3 519.2,183.9 520.5,181.9 521.9,181.4 523.2,182.7 524.5,184.1 525.9,185.1 527.2,181.4 528.6,179.1 529.9,180.8 531.2,181.7 532.6,181.1 533.9,182.1 535.2,180.4 536.6,179.8 537.9,180.9 539.2,176.6 540.6,180.0 541.9,181.0 543.3,178.6 544.6,178.6 545.9,176.7 547.3,182.1 548.6,176.3 549.9,179.7 551.3,178.6 552.6,173.6 553.9,178.6 555.3,176.3 556.6,181.5 557.9,180.8 559.3,175.1 560.6,177.8 562.0,175.5 563.3,176.1 564.6,177.5 566.0,176.0 567.3,176.2 568.6,171.8 570.0,173.1 571.3,173.2 572.6,175.9 574.0,176.2 575.3,175.8 576.7,176.2 578.0,174.1 579.3,177.0 580.7,177.4 582.0,174.8 583.3,175.6 584.7,177.7 586.0,173.3 587.3,174.0 588.7,175.2 590.0,174.3 591.3,172.8 592.7,174.5 594.0,174.7 595.4,176.2 596.7,177.1 598.0,173.3 599.4,170.6 600.7,177.7 602.0,174.7 603.4,174.8 604.7,174.8 606.0,177.3 607.4,174.9 608.7,177.2 610.1,175.8 611.4,175.8 612.7,174.4 614.1,178.0 615.4,177.7 616.7,173.6 618.1,175.3 619.4,179.4 620.7,172.6 622.1,172.4 623.4,174.4 623.7,175.4 624.5,169.7 625.4,173.1 626.2,167.4 627.1,172.0 628.0,166.8 628.8,170.5 629.7,169.5 630.5,160.7 631.4,174.2 632.2,169.4 633.1,166.4 633.9,162.8 634.8,171.0 635.7,168.5 636.5,172.3 637.4,149.7 638.2,165.1 639.1,151.2 639.9,167.5 640.8,146.6 641.6,147.4 642.5,139.1 643.3,157.3 644.2,154.0 645.1,132.8 645.9,168.0 646.8,134.0 647.6,151.6 648.5,135.3 649.3,152.4 650.2,138.1 651.0,123.6 651.9,166.8 652.8,149.5 653.6,158.4 654.5,155.8 655.3,120.8 656.2,154.9 657.0,159.1 657.9,115.5 658.7,139.9 659.6,106.4 660.4,90.7 661.3,141.6 662.2,109.8 663.0,151.7 663.9,110.5 664.7,148.2 665.6,153.9 666.4,150.1 667.3,127.4 668.1,125.4 669.0,141.3 669.9,89.3 670.7,166.8 671.6,112.2 672.4,155.6 673.3,131.6 674.1,111.2 675.0,141.4 675.8,149.3 676.7,130.3 677.5,147.5 678.4,99.8 679.3,114.3 680.1,144.6 681.0,112.8 681.8,154.8 682.7,113.3" fill="none" stroke="#37AD6B" stroke-width="1.5" stroke-linejoin="round"/><polyline points="400.3,211.6 401.6,211.6 403.0,211.6 404.3,211.6 405.6,211.6 407.0,211.6 408.3,211.6 409.7,211.6 411.0,211.4 412.3,211.1 413.7,210.7 415.0,210.3 416.3,209.7 417.7,208.9 419.0,208.4 420.3,207.3 421.7,206.2 423.0,205.3 424.3,204.6 425.7,203.6 427.0,202.6 428.4,201.1 429.7,200.9 431.0,200.7 432.4,198.2 433.7,197.4 435.0,196.3 436.4,195.5 437.7,193.7 439.0,193.9 440.4,191.6 441.7,190.2 443.1,190.6 444.4,191.0 445.7,189.9 447.1,188.4 448.4,188.7 449.7,190.6 451.1,189.2 452.4,190.4 453.7,189.8 455.1,190.7 456.4,190.8 457.7,189.2 459.1,189.0 460.4,187.4 461.8,189.7 463.1,188.4 464.4,189.2 465.8,190.2 467.1,190.1 468.4,187.0 469.8,191.9 471.1,191.2 472.4,191.5 473.8,187.8 475.1,187.4 476.5,188.0 477.8,189.3 479.1,189.4 480.5,188.7 481.8,187.9 483.1,187.8 484.5,188.1 485.8,189.1 487.1,190.8 488.5,188.7 489.8,188.0 491.1,186.9 492.5,187.4 493.8,184.2 495.2,187.4 496.5,188.3 497.8,186.6 499.2,186.6 500.5,186.4 501.8,186.5 503.2,187.0 504.5,187.3 505.8,186.6 507.2,185.7 508.5,185.3 509.9,184.0 511.2,185.1 512.5,186.9 513.9,185.7 515.2,184.1 516.5,185.4 517.9,181.6 519.2,185.4 520.5,184.0 521.9,183.7 523.2,184.5 524.5,184.6 525.9,181.4 527.2,182.3 528.6,181.5 529.9,182.7 531.2,184.0 532.6,184.5 533.9,182.3 535.2,184.1 536.6,184.5 537.9,181.4 539.2,181.4 540.6,184.2 541.9,181.3 543.3,182.6 544.6,178.5 545.9,180.9 547.3,180.4 548.6,182.5 549.9,181.8 551.3,184.5 552.6,182.3 553.9,181.9 555.3,180.3 556.6,183.0 557.9,181.6 559.3,183.3 560.6,181.1 562.0,178.9 563.3,180.8 564.6,176.3 566.0,182.3 567.3,183.0 568.6,181.5 570.0,179.0 571.3,183.4 572.6,185.1 574.0,182.8 575.3,176.3 576.7,182.7 578.0,182.4 579.3,181.6 580.7,179.3 582.0,180.8 583.3,180.4 584.7,176.6 586.0,178.9 587.3,178.8 588.7,179.4 590.0,179.5 591.3,181.7 592.7,180.7 594.0,181.7 595.4,180.2 596.7,175.6 598.0,181.2 599.4,180.7 600.7,181.0 602.0,177.7 603.4,180.0 604.7,181.3 606.0,181.1 607.4,180.7 608.7,180.1 610.1,178.7 611.4,179.9 612.7,182.1 614.1,183.5 615.4,182.0 616.7,181.1 618.1,181.9 619.4,181.2 620.7,182.8 622.1,182.1 623.4,181.2 624.7,178.5 626.1,179.2 627.4,179.6 628.0,181.5 628.8,181.0 629.7,174.5 630.5,172.8 631.4,183.8 632.2,171.2 633.1,181.9 633.9,169.8 634.8,181.7 635.7,177.7 636.5,180.8 637.4,166.1 638.2,175.5 639.1,166.4 639.9,178.7 640.8,179.3 641.6,180.5 642.5,165.3 643.3,179.3 644.2,179.8 645.1,155.7 645.9,152.9 646.8,170.3 647.6,155.3 648.5,172.3 649.3,148.0 650.2,170.3 651.0,152.9 651.9,151.2 652.8,173.4 653.6,175.6 654.5,152.9 655.3,171.8 656.2,142.7 657.0,168.7 657.9,133.7 658.7,163.7 659.6,133.7 660.4,126.6 661.3,145.4 662.2,164.3 663.0,128.5 663.9,151.2 664.7,126.6 665.6,173.8 666.4,153.5 667.3,139.4 668.1,150.7 669.0,100.8 669.9,170.8 670.7,153.7 671.6,149.8 672.4,128.1 673.3,148.1 674.1,130.9 675.0,124.1 675.8,93.9 676.7,122.2 677.5,168.3 678.4,122.2 679.3,158.3 680.1,140.4 681.0,170.7 681.8,156.2 682.7,164.3" fill="none" stroke="#B177DE" stroke-width="1.5" stroke-linejoin="round"/><polyline points="400.3,211.6 401.6,211.6 403.0,211.6 404.3,211.6 405.6,211.6 407.0,211.6 408.3,211.6 409.7,211.6 411.0,211.6 412.3,211.3 413.7,211.1 415.0,210.8 416.3,210.3 417.7,209.8 419.0,209.1 420.3,208.6 421.7,207.7 423.0,207.0 424.3,205.8 425.7,204.6 427.0,204.2 428.4,203.1 429.7,201.7 431.0,201.4 432.4,200.7 433.7,199.5 435.0,198.1 436.4,197.7 437.7,196.6 439.0,196.4 440.4,195.0 441.7,194.0 443.1,193.1 444.4,193.1 445.7,193.5 447.1,193.2 448.4,193.3 449.7,192.8 451.1,193.2 452.4,191.8 453.7,193.0 455.1,192.0 456.4,192.3 457.7,190.5 459.1,193.1 460.4,190.1 461.8,190.8 463.1,191.1 464.4,189.5 465.8,191.4 467.1,191.4 468.4,191.2 469.8,189.3 471.1,191.7 472.4,191.9 473.8,191.3 475.1,191.7 476.5,190.7 477.8,191.0 479.1,188.2 480.5,190.5 481.8,191.4 483.1,189.3 484.5,192.2 485.8,191.4 487.1,189.2 488.5,190.8 489.8,189.6 491.1,190.3 492.5,189.8 493.8,189.7 495.2,191.3 496.5,187.8 497.8,190.9 499.2,188.3 500.5,188.6 501.8,186.6 503.2,189.8 504.5,188.4 505.8,188.3 507.2,188.2 508.5,190.2 509.9,188.4 511.2,188.5 512.5,187.2 513.9,186.8 515.2,187.4 516.5,188.0 517.9,186.8 519.2,188.8 520.5,186.6 521.9,187.4 523.2,185.9 524.5,185.6 525.9,186.8 527.2,187.2 528.6,185.9 529.9,188.4 531.2,185.0 532.6,185.2 533.9,186.1 535.2,185.8 536.6,187.4 537.9,185.0 539.2,183.8 540.6,185.9 541.9,187.6 543.3,186.9 544.6,183.7 545.9,185.2 547.3,184.9 548.6,185.6 549.9,183.1 551.3,182.9 552.6,184.6 553.9,185.6 555.3,184.4 556.6,182.5 557.9,182.5 559.3,184.8 560.6,185.0 562.0,183.8 563.3,184.1 564.6,184.1 566.0,185.6 567.3,183.1 568.6,184.2 570.0,183.4 571.3,183.4 572.6,186.3 574.0,183.2 575.3,183.8 576.7,183.1 578.0,183.2 579.3,185.1 580.7,184.4 582.0,185.5 583.3,183.5 584.7,185.4 586.0,185.7 587.3,185.0 588.7,184.9 590.0,186.1 591.3,185.8 592.7,186.7 594.0,185.7 595.4,188.2 596.7,186.3 598.0,188.2 599.4,185.7 600.7,187.4 602.0,189.1 603.4,187.4 604.7,191.5 606.0,189.3 607.4,189.0 608.7,188.8 610.1,190.2 611.4,190.7 612.7,189.4 614.1,191.0 615.4,190.8 616.7,191.4 618.1,188.6 619.4,188.5 620.7,187.6 622.1,187.8 623.4,185.6 624.7,186.2 626.1,185.1 627.4,181.9 628.5,182.4 629.3,185.4 630.2,174.9 631.1,184.8 631.9,165.9 632.8,170.8 633.6,183.6 634.5,161.9 635.3,178.9 636.2,157.7 637.0,172.7 637.9,165.9 638.8,175.7 639.6,170.0 640.5,177.3 641.3,159.1 642.2,166.0 643.0,155.0 643.9,174.0 644.7,137.9 645.6,160.9 646.4,141.5 647.3,174.6 648.2,143.4 649.0,152.3 649.9,109.2 650.7,138.6 651.6,125.3 652.4,162.6 653.3,117.4 654.1,160.8 655.0,125.2 655.9,83.5 656.7,120.3 657.6,145.2 658.4,152.2 659.3,111.0 660.1,141.1 661.0,141.2 661.8,157.3 662.7,111.3 663.5,121.1 664.4,141.3 665.3,155.4 666.1,128.9 667.0,150.1 667.8,142.8 668.7,145.5 669.5,128.9 670.4,165.0 671.2,124.7 672.1,162.5 673.0,114.1 673.8,157.5 674.7,120.8 675.5,167.5 676.4,124.9 677.2,150.3 678.1,93.1 678.9,127.3 679.8,123.2 680.6,119.7 681.5,148.3 682.4,131.0" fill="none" stroke="#CC9900" stroke-width="1.5" stroke-linejoin="round"/><polyline points="400.3,211.6 401.6,211.6 403.0,211.6 404.3,211.6 405.6,211.6 407.0,211.6 408.3,211.6 409.7,211.6 411.0,211.6 412.3,211.6 413.7,211.6 415.0,211.2 416.3,210.7 417.7,210.3 419.0,210.0 420.3,209.4 421.7,209.1 423.0,208.8 424.3,208.1 425.7,207.1 427.0,206.7 428.4,206.0 429.7,204.8 431.0,204.1 432.4,204.0 433.7,202.3 435.0,202.1 436.4,202.0 437.7,200.7 439.0,200.4 440.4,199.9 441.7,198.8 443.1,199.7 444.4,199.0 445.7,198.2 447.1,196.1 448.4,195.9 449.7,197.3 451.1,195.4 452.4,194.8 453.7,195.1 455.1,196.2 456.4,196.4 457.7,196.2 459.1,198.2 460.4,197.6 461.8,198.8 463.1,195.0 464.4,197.1 465.8,199.5 467.1,196.4 468.4,196.8 469.8,195.9 471.1,196.7 472.4,196.3 473.8,194.4 475.1,197.1 476.5,198.4 477.8,198.9 479.1,197.1 480.5,197.2 481.8,198.9 483.1,197.3 484.5,199.6 485.8,195.5 487.1,197.9 488.5,197.5 489.8,197.7 491.1,195.1 492.5,195.7 493.8,197.6 495.2,194.7 496.5,199.7 497.8,198.8 499.2,197.4 500.5,192.9 501.8,196.9 503.2,195.2 504.5,195.1 505.8,194.4 507.2,198.8 508.5,197.4 509.9,194.1 511.2,199.2 512.5,195.0 513.9,193.2 515.2,198.6 516.5,192.5 517.9,192.3 519.2,193.7 520.5,196.1 521.9,194.1 523.2,195.1 524.5,195.2 525.9,193.5 527.2,197.2 528.6,195.6 529.9,196.5 531.2,195.6 532.6,196.0 533.9,198.2 535.2,196.1 536.6,196.3 537.9,198.4 539.2,195.5 540.6,195.6 541.9,193.3 543.3,194.0 544.6,193.6 545.9,194.9 547.3,195.1 548.6,194.1 549.9,191.3 551.3,194.4 552.6,195.0 553.9,196.9 555.3,193.1 556.6,195.1 557.9,194.8 559.3,193.3 560.6,193.4 562.0,192.3 563.3,194.1 564.6,191.9 566.0,190.4 567.3,190.9 568.6,193.5 570.0,192.1 571.3,186.3 572.6,187.8 574.0,186.3 575.3,190.0 576.7,189.2 578.0,188.9 579.3,189.8 580.7,188.0 582.0,188.4 583.3,193.3 584.7,194.4 586.0,192.2 587.3,190.3 588.7,192.3 590.0,194.3 591.3,193.0 592.7,194.8 594.0,194.0 595.4,193.8 596.7,198.6 598.0,191.2 599.4,194.8 600.7,192.3 602.0,197.8 603.4,193.5 604.7,193.5 606.0,191.6 607.4,195.9 608.7,192.2 610.1,192.0 611.4,193.8 612.7,198.5 614.1,194.4 615.4,195.0 616.7,196.4 618.1,196.4 619.4,198.5 620.7,194.6 622.1,192.3 623.4,196.4 624.7,193.5 626.1,195.7 627.4,195.9 628.8,198.6 630.1,200.1 631.4,198.5 632.8,199.6 634.1,198.6 635.4,198.7 636.8,198.9 638.1,200.7 639.4,201.7 640.8,200.8 642.1,200.8 643.5,201.6 644.8,201.3 646.1,197.6 647.5,200.2 648.8,197.2 650.1,197.8 651.5,200.8 652.8,198.0 654.1,195.4 655.5,197.7 656.8,194.2 658.2,191.4 659.5,191.3 660.8,192.1 662.2,189.1 663.5,182.9 664.8,182.3 666.2,181.6 667.5,180.8 668.8,179.0 670.2,183.8 671.5,185.1 672.8,184.1 674.2,184.3 675.5,185.8 676.9,189.2 678.2,187.5 679.5,188.3 680.9,189.3 682.2,185.5" fill="none" stroke="#00CBCC" stroke-width="1.5" stroke-linejoin="round"/></g></g><g clip-path="url(#clipc)"><g style="filter:blur(0.35px)"><polyline points="54.4,296.4 55.7,296.4 57.0,296.6 58.3,296.2 59.5,296.4 60.8,296.4 62.1,296.5 63.4,296.7 64.7,296.2 66.0,296.6 67.3,296.6 68.5,296.9 69.8,297.5 71.1,298.0 72.4,298.0 73.7,298.3 75.0,298.9 76.3,298.9 77.5,300.7 78.8,300.6 80.1,301.1 81.4,302.4 82.7,301.9 84.0,302.5 85.3,303.2 86.5,304.1 87.8,305.1 89.1,305.6 90.4,307.2 91.7,307.9 93.0,308.2 94.3,309.3 95.5,309.3 96.8,308.1 98.1,308.9 99.4,309.7 100.7,307.2 102.0,310.7 103.3,308.7 104.6,309.7 105.8,308.9 107.1,309.8 108.4,310.6 109.7,310.4 111.0,310.2 112.3,309.5 113.6,309.6 114.8,310.6 116.1,310.6 117.4,310.5 118.7,309.2 120.0,311.1 121.3,309.7 122.6,308.7 123.8,309.5 125.1,311.8 126.4,310.2 127.7,312.0 129.0,311.6 130.3,311.9 131.6,312.0 132.8,311.8 134.1,313.5 135.4,310.4 136.7,310.7 138.0,311.9 139.3,313.8 140.6,312.1 141.8,311.4 143.1,312.6 144.4,311.7 145.7,312.6 147.0,312.9 148.3,312.0 149.6,312.0 150.8,311.0 152.1,312.5 153.4,311.1 154.7,311.6 156.0,310.1 157.3,312.9 158.6,311.7 159.8,311.6 161.1,312.4 162.4,313.9 163.7,315.2 165.0,312.7 166.3,313.4 167.6,313.7 168.8,312.3 170.1,313.5 171.4,314.1 172.7,312.4 174.0,314.4 175.3,313.7 176.6,312.4 177.8,312.7 179.1,313.9 180.4,315.0 181.7,313.5 183.0,313.0 184.3,314.9 185.6,314.4 186.8,314.2 188.1,314.2 189.4,315.0 190.7,314.4 192.0,314.1 193.3,314.6 194.6,315.5 195.9,313.7 197.1,315.7 198.4,313.9 199.7,315.6 201.0,312.7 202.3,312.9 203.6,315.9 204.9,315.4 206.1,314.8 207.4,313.5 208.7,315.6 210.0,313.9 211.3,316.0 212.6,314.2 213.9,313.3 215.1,313.8 216.4,313.1 217.7,313.6 219.0,314.6 220.3,314.1 221.6,314.4 222.9,315.1 224.1,314.8 225.4,314.9 226.7,314.7 228.0,315.6 229.3,316.0 230.6,314.4 231.9,316.0 233.1,314.1 234.4,316.2 235.7,314.9 237.0,314.6 238.3,315.0 239.6,314.6 240.9,315.9 242.1,315.5 243.4,317.0 244.7,314.4 246.0,315.9 247.3,315.9 248.6,315.3 249.9,314.8 251.1,318.8 252.4,315.9 253.7,316.5 255.0,317.3 256.3,316.2 257.6,316.0 258.9,316.3 260.1,316.2 261.4,314.6 262.7,315.1 264.0,314.4 265.3,315.7 266.6,315.7 267.9,314.8 268.9,318.9 270.2,318.6 271.5,323.3 272.7,324.9 274.0,324.5 275.3,327.4 276.6,336.2 277.9,340.5 279.2,336.4 280.5,344.6 281.7,337.6 283.0,350.5 284.3,352.9 285.6,348.1 286.9,369.0 288.2,371.9 289.5,375.4 290.8,354.7 292.0,358.6 293.3,386.2 294.6,357.4 295.9,389.4 297.2,377.0 298.5,399.0 299.8,394.1 301.0,377.1 302.3,397.3 303.6,362.3 304.9,363.2 306.2,377.8 307.5,402.5 308.8,389.7 310.0,364.0 311.3,371.6 312.6,399.3 313.9,367.5 315.2,389.4 316.5,375.7 317.8,394.6 319.0,371.5 320.3,369.7 322.1,302.6 323.2,301.8 324.4,304.4 325.7,301.8 327.0,305.3 328.3,302.6 329.6,304.4 331.1,301.8 332.2,304.4 332.9,329.9 334.0,365.2 335.0,321.1 336.0,374.0 337.3,356.4" fill="none" stroke="#515151" stroke-width="1.25" stroke-linejoin="round"/><polyline points="54.4,296.5 55.7,296.7 57.0,296.5 58.3,296.1 59.5,296.1 60.8,296.2 62.1,296.4 63.4,296.4 64.7,296.3 66.0,296.1 67.3,296.7 68.5,296.6 69.8,297.6 71.1,297.4 72.4,297.7 73.7,298.8 75.0,298.5 76.3,299.4 77.5,300.0 78.8,301.0 80.1,301.7 81.4,302.2 82.7,301.9 84.0,302.2 85.3,304.5 86.5,303.7 87.8,304.5 89.1,306.4 90.4,307.0 91.7,307.6 93.0,308.1 94.3,309.6 95.5,309.4 96.8,308.7 98.1,309.9 99.4,308.7 100.7,307.7 102.0,309.5 103.3,311.1 104.6,309.8 105.8,310.1 107.1,308.9 108.4,311.4 109.7,311.6 111.0,309.3 112.3,310.2 113.6,308.8 114.8,310.7 116.1,310.5 117.4,311.2 118.7,309.3 120.0,312.2 121.3,309.9 122.6,310.4 123.8,311.3 125.1,311.5 126.4,312.7 127.7,311.2 129.0,312.6 130.3,312.2 131.6,312.5 132.8,313.0 134.1,312.8 135.4,313.3 136.7,313.0 138.0,312.7 139.3,312.0 140.6,313.3 141.8,313.5 143.1,312.7 144.4,314.3 145.7,313.6 147.0,314.5 148.3,311.5 149.6,313.9 150.8,311.9 152.1,313.9 153.4,313.8 154.7,313.5 156.0,314.3 157.3,313.9 158.6,314.4 159.8,314.5 161.1,312.7 162.4,316.0 163.7,313.0 165.0,313.3 166.3,313.3 167.6,313.8 168.8,312.0 170.1,316.7 171.4,314.4 172.7,314.4 174.0,315.2 175.3,316.3 176.6,316.3 177.8,316.6 179.1,316.0 180.4,317.1 181.7,315.9 183.0,315.0 184.3,316.9 185.6,316.8 186.8,316.2 188.1,317.4 189.4,316.9 190.7,315.9 192.0,318.0 193.3,316.5 194.6,317.4 195.9,317.0 197.1,319.7 198.4,315.9 199.7,317.8 201.0,317.8 202.3,319.6 203.6,319.6 204.9,320.0 206.1,318.2 207.4,319.2 208.7,320.3 210.0,318.6 211.3,319.6 212.6,321.6 213.9,317.0 215.1,318.2 216.4,318.9 217.7,317.7 219.0,319.3 220.3,317.6 221.6,317.8 222.9,319.3 224.1,319.7 225.4,320.7 226.7,320.1 228.0,319.1 229.3,320.5 230.6,318.5 231.9,318.3 233.1,319.2 234.4,318.8 235.7,318.0 237.0,320.9 238.3,318.8 239.6,319.9 240.9,319.6 242.1,319.1 243.4,319.7 244.7,320.3 246.0,321.0 247.3,319.1 248.6,320.3 249.9,319.8 251.1,319.2 252.4,320.0 253.7,318.2 255.0,319.3 256.3,319.7 257.6,320.0 258.9,318.8 260.1,319.2 261.4,321.4 262.7,317.8 263.7,322.4 265.0,324.5 266.3,326.8 267.6,324.6 268.9,329.3 270.2,334.4 271.5,333.9 272.7,334.0 274.0,333.0 275.3,334.7 276.6,339.2 277.9,346.2 279.2,347.5 280.5,354.6 281.7,345.6 283.0,355.9 284.3,355.5 285.6,364.2 286.9,356.1 288.2,371.1 289.5,365.3 290.8,380.9 292.0,355.3 293.3,398.2 294.6,382.9 295.9,373.9 297.2,380.4 298.5,367.2 299.8,384.0 301.0,377.0 302.3,365.5 303.6,399.4 304.9,377.2 306.2,374.8 307.5,389.8 308.8,377.4 310.0,400.1 311.3,384.0 312.6,392.8 313.9,362.0 315.2,389.0 316.5,361.7 317.8,397.2 319.0,376.9 320.3,384.1 321.6,360.0 322.9,363.7 324.2,356.8 325.5,394.6 326.8,395.7 328.0,366.6 329.1,307.0 330.1,303.5 331.1,305.3 332.2,302.6 333.4,304.4 334.7,303.5 336.0,306.2 337.3,302.6" fill="none" stroke="#F14040" stroke-width="1.25" stroke-linejoin="round"/><polyline points="54.4,296.6 55.7,296.7 57.0,296.3 58.3,296.7 59.5,296.5 60.8,296.3 62.1,296.4 63.4,296.6 64.7,296.8 66.0,296.7 67.3,296.8 68.5,296.3 69.8,297.5 71.1,297.7 72.4,297.3 73.7,298.0 75.0,298.1 76.3,299.3 77.5,300.5 78.8,300.3 80.1,301.0 81.4,301.8 82.7,303.3 84.0,303.0 85.3,303.0 86.5,304.6 87.8,305.0 89.1,306.2 90.4,307.7 91.7,308.1 93.0,308.6 94.3,310.0 95.5,309.5 96.8,310.1 98.1,309.8 99.4,311.5 100.7,310.3 102.0,310.0 103.3,309.4 104.6,309.2 105.8,310.5 107.1,311.3 108.4,311.5 109.7,312.1 111.0,312.4 112.3,310.8 113.6,311.4 114.8,312.1 116.1,310.7 117.4,311.2 118.7,312.3 120.0,311.2 121.3,312.0 122.6,315.2 123.8,312.3 125.1,310.9 126.4,311.4 127.7,313.2 129.0,313.0 130.3,315.1 131.6,313.3 132.8,313.0 134.1,312.0 135.4,314.1 136.7,311.1 138.0,314.0 139.3,315.1 140.6,312.2 141.8,312.8 143.1,312.9 144.4,312.8 145.7,311.4 147.0,312.8 148.3,314.9 149.6,314.5 150.8,314.3 152.1,314.2 153.4,315.4 154.7,316.4 156.0,314.5 157.3,314.7 158.6,315.6 159.8,315.2 161.1,314.5 162.4,314.4 163.7,316.6 165.0,315.4 166.3,316.7 167.6,315.9 168.8,315.1 170.1,316.2 171.4,315.1 172.7,317.3 174.0,316.8 175.3,320.6 176.6,317.9 177.8,317.1 179.1,317.9 180.4,318.7 181.7,318.7 183.0,318.8 184.3,318.8 185.6,317.8 186.8,319.1 188.1,319.7 189.4,319.0 190.7,319.3 192.0,319.3 193.3,320.5 194.6,320.5 195.9,320.2 197.1,319.8 198.4,322.5 199.7,320.3 201.0,322.1 202.3,321.7 203.6,320.8 204.9,320.9 206.1,321.4 207.4,322.6 208.7,321.5 210.0,322.9 211.3,323.1 212.6,323.0 213.9,324.3 215.1,321.0 216.4,320.7 217.7,323.1 219.0,323.8 220.3,323.0 221.6,323.6 222.9,321.7 224.1,323.9 225.4,324.2 226.7,323.9 228.0,322.9 229.3,323.3 230.6,323.7 231.9,323.5 233.1,323.0 234.4,324.7 235.7,326.5 237.0,324.1 238.3,325.4 239.6,323.7 240.9,323.0 242.1,325.1 243.4,324.5 244.7,323.9 246.0,323.7 247.3,325.1 248.6,324.4 249.9,323.8 251.1,323.8 252.4,325.8 253.7,324.7 255.0,324.6 256.3,324.0 257.6,326.3 258.9,325.9 259.1,323.6 260.4,327.1 261.7,327.9 263.0,330.7 264.3,331.8 265.5,328.3 266.8,332.7 268.1,332.2 269.4,339.3 270.7,334.1 272.0,342.2 273.3,338.5 274.5,341.4 275.8,343.5 277.1,349.3 278.4,346.3 279.7,354.0 281.0,348.8 282.3,360.0 283.5,359.2 284.8,372.0 286.1,369.4 287.4,359.5 288.7,384.5 290.0,371.9 291.3,381.4 292.6,377.2 293.8,377.8 295.1,401.2 296.4,406.1 297.7,370.3 299.0,379.8 300.3,403.3 301.6,387.9 302.8,398.7 304.1,387.9 305.4,388.2 306.7,415.1 308.0,385.7 309.3,374.7 310.6,400.7 311.8,387.7 313.1,403.8 314.4,374.6 315.7,390.0 317.0,410.5 318.3,386.4 319.6,402.3 320.8,410.0 322.1,375.1 323.4,410.5 324.7,406.2 326.0,402.0 327.3,366.9 328.6,421.4 329.8,370.7 331.1,400.7 332.4,353.7 333.7,396.3 335.0,397.8 336.3,411.0" fill="none" stroke="#1A6FDF" stroke-width="1.25" stroke-linejoin="round"/><polyline points="54.4,296.3 55.7,296.7 57.0,296.3 58.3,296.4 59.5,296.4 60.8,296.6 62.1,296.4 63.4,296.9 64.7,296.1 66.0,296.5 67.3,296.8 68.5,296.8 69.8,297.2 71.1,297.5 72.4,297.9 73.7,298.4 75.0,299.1 76.3,298.9 77.5,300.0 78.8,300.4 80.1,300.5 81.4,301.6 82.7,302.1 84.0,303.7 85.3,303.7 86.5,304.3 87.8,304.7 89.1,306.6 90.4,307.2 91.7,308.1 93.0,307.4 94.3,309.2 95.5,309.4 96.8,309.8 98.1,310.1 99.4,310.4 100.7,308.7 102.0,310.8 103.3,310.2 104.6,311.0 105.8,310.4 107.1,309.0 108.4,311.1 109.7,310.1 111.0,312.0 112.3,311.1 113.6,311.0 114.8,311.1 116.1,310.2 117.4,312.8 118.7,314.1 120.0,311.1 121.3,312.3 122.6,311.5 123.8,311.1 125.1,311.4 126.4,313.3 127.7,313.3 129.0,312.2 130.3,315.4 131.6,312.1 132.8,312.3 134.1,312.6 135.4,314.9 136.7,313.8 138.0,312.9 139.3,314.5 140.6,314.4 141.8,313.3 143.1,311.5 144.4,312.5 145.7,312.3 147.0,311.5 148.3,313.6 149.6,314.6 150.8,312.8 152.1,313.1 153.4,316.5 154.7,314.6 156.0,316.2 157.3,314.7 158.6,314.7 159.8,314.7 161.1,315.5 162.4,317.5 163.7,315.6 165.0,315.7 166.3,316.5 167.6,315.5 168.8,316.5 170.1,316.4 171.4,317.7 172.7,318.1 174.0,318.4 175.3,317.6 176.6,318.6 177.8,318.3 179.1,317.4 180.4,316.5 181.7,318.8 183.0,318.2 184.3,318.5 185.6,318.9 186.8,318.5 188.1,319.7 189.4,319.7 190.7,320.1 192.0,319.7 193.3,318.5 194.6,319.8 195.9,321.4 197.1,320.9 198.4,322.0 199.7,322.7 201.0,321.8 202.3,320.6 203.6,321.6 204.9,320.4 206.1,323.2 207.4,322.1 208.7,320.7 210.0,322.6 211.3,321.8 212.6,323.4 213.9,321.8 215.1,322.5 216.4,323.1 217.7,324.2 219.0,321.1 220.3,322.4 221.6,321.9 222.9,322.6 224.1,321.3 225.4,322.7 226.7,323.4 228.0,323.2 229.3,323.6 230.6,322.6 231.9,324.0 233.1,323.7 234.4,323.4 235.7,324.6 237.0,324.2 238.3,321.9 239.6,323.8 240.9,322.2 242.1,326.1 243.4,324.8 244.7,322.9 246.0,323.8 247.3,323.8 248.6,323.8 249.9,324.8 251.1,324.6 252.4,322.7 253.7,326.7 255.0,323.8 256.3,323.9 257.6,326.2 258.9,323.1 260.1,324.7 260.9,327.3 262.2,324.2 263.5,325.6 264.8,329.0 266.1,328.0 267.3,334.2 268.6,330.3 269.9,330.4 271.2,334.2 272.5,336.9 273.8,334.7 275.1,342.3 276.3,342.0 277.6,337.4 278.9,346.6 280.2,337.8 281.5,358.9 282.8,346.3 284.1,361.8 285.3,352.1 286.6,367.9 287.9,349.8 289.2,378.3 290.5,361.9 291.8,365.1 293.1,386.1 294.4,373.1 295.6,377.0 296.9,392.8 298.2,362.9 299.5,408.1 300.8,371.2 302.1,391.4 303.4,380.9 304.6,412.5 305.9,378.3 307.2,369.9 308.5,396.4 309.8,360.1 311.1,404.8 312.4,402.9 313.6,377.9 314.9,367.0 316.2,375.8 317.5,374.6 318.8,368.6 320.1,408.6 321.4,379.0 322.6,396.7 323.9,373.3 325.2,366.4 326.5,399.4 327.8,380.6 329.1,369.5 330.4,404.6 331.6,361.2 332.9,368.2 334.2,386.6 335.5,371.3 336.8,391.1" fill="none" stroke="#37AD6B" stroke-width="1.25" stroke-linejoin="round"/><polyline points="54.4,296.3 55.7,296.6 57.0,296.6 58.3,296.6 59.5,296.5 60.8,296.3 62.1,295.8 63.4,296.6 64.7,296.6 66.0,296.4 67.3,296.7 68.5,296.9 69.8,297.6 71.1,298.0 72.4,297.4 73.7,298.3 75.0,298.9 76.3,299.0 77.5,300.4 78.8,300.5 80.1,301.2 81.4,301.6 82.7,302.3 84.0,303.1 85.3,303.6 86.5,304.2 87.8,305.2 89.1,305.7 90.4,306.3 91.7,307.8 93.0,308.8 94.3,309.9 95.5,309.6 96.8,309.7 98.1,309.5 99.4,309.2 100.7,310.7 102.0,309.8 103.3,309.7 104.6,310.2 105.8,311.5 107.1,312.6 108.4,312.2 109.7,311.2 111.0,313.0 112.3,312.0 113.6,310.6 114.8,312.2 116.1,311.6 117.4,309.7 118.7,312.5 120.0,312.9 121.3,311.5 122.6,311.4 123.8,310.7 125.1,311.6 126.4,312.1 127.7,311.6 129.0,311.2 130.3,311.8 131.6,312.3 132.8,312.0 134.1,312.5 135.4,312.1 136.7,313.8 138.0,313.4 139.3,309.9 140.6,314.4 141.8,313.9 143.1,314.4 144.4,314.4 145.7,311.6 147.0,312.0 148.3,316.4 149.6,314.2 150.8,313.9 152.1,312.7 153.4,313.6 154.7,312.8 156.0,313.9 157.3,313.6 158.6,312.8 159.8,313.9 161.1,314.0 162.4,313.1 163.7,314.8 165.0,314.6 166.3,316.5 167.6,315.3 168.8,315.2 170.1,315.3 171.4,316.5 172.7,315.6 174.0,314.8 175.3,313.2 176.6,315.2 177.8,316.4 179.1,315.0 180.4,316.7 181.7,314.8 183.0,317.2 184.3,316.6 185.6,315.4 186.8,316.2 188.1,318.0 189.4,315.6 190.7,315.1 192.0,316.9 193.3,317.3 194.6,314.4 195.9,316.5 197.1,317.5 198.4,317.4 199.7,319.2 201.0,318.6 202.3,318.9 203.6,318.1 204.9,319.6 206.1,317.7 207.4,318.9 208.7,319.9 210.0,318.6 211.3,318.8 212.6,320.2 213.9,317.7 215.1,319.1 216.4,320.2 217.7,318.4 219.0,318.4 220.3,319.7 221.6,318.9 222.9,320.0 224.1,321.5 225.4,319.4 226.7,322.0 228.0,321.4 229.3,320.1 230.6,320.0 231.9,320.7 233.1,319.0 234.4,318.8 235.7,318.4 237.0,319.4 238.3,318.6 239.6,318.3 240.9,320.5 242.1,320.4 243.4,322.0 244.7,322.1 246.0,321.0 247.3,321.0 248.6,320.9 249.9,322.0 251.1,323.5 252.4,320.5 253.7,320.5 255.0,320.4 256.3,320.3 257.6,320.2 258.9,320.8 260.1,319.7 261.4,321.9 262.7,320.7 264.0,322.4 265.3,319.7 266.6,322.4 267.9,322.8 269.1,322.1 270.4,321.2 271.2,325.4 272.5,324.7 273.8,321.0 275.1,324.3 276.3,323.2 277.6,326.0 278.9,323.6 280.2,326.2 281.5,324.8 282.8,325.9 284.1,330.4 285.3,327.3 286.6,323.9 287.9,331.5 289.2,326.6 290.5,343.4 291.8,338.4 293.1,335.7 294.4,355.6 295.6,338.4 296.9,362.0 298.2,349.0 299.5,378.8 300.8,372.6 302.1,365.8 303.4,390.1 304.6,359.0 305.9,397.4 307.2,368.0 308.5,372.1 309.8,400.8 311.1,359.1 312.4,385.7 313.6,397.5 314.9,369.9 316.2,390.1 317.5,369.1 318.8,363.5 320.1,405.3 321.4,389.3 322.6,402.6 323.9,391.0 325.2,403.8 326.5,380.1 327.8,398.6 329.1,360.3 330.4,379.9 331.6,395.7 332.9,367.1 334.2,394.8 335.5,394.0 336.8,379.6" fill="none" stroke="#B177DE" stroke-width="1.25" stroke-linejoin="round"/><polyline points="54.4,296.5 55.7,296.4 57.0,296.7 58.3,296.2 59.5,296.4 60.8,296.4 62.1,296.3 63.4,296.5 64.7,296.6 66.0,296.4 67.3,296.7 68.5,296.8 69.8,297.4 71.1,297.8 72.4,298.0 73.7,298.5 75.0,298.9 76.3,299.3 77.5,300.3 78.8,300.2 80.1,301.1 81.4,301.5 82.7,302.2 84.0,302.3 85.3,303.1 86.5,303.8 87.8,305.1 89.1,305.9 90.4,305.8 91.7,307.9 93.0,307.9 94.3,308.6 95.5,308.4 96.8,309.2 98.1,308.6 99.4,309.0 100.7,309.5 102.0,309.3 103.3,308.8 104.6,310.0 105.8,308.4 107.1,309.4 108.4,308.6 109.7,310.1 111.0,309.2 112.3,310.4 113.6,310.7 114.8,311.1 116.1,311.1 117.4,311.0 118.7,310.2 120.0,309.5 121.3,311.7 122.6,310.3 123.8,310.6 125.1,311.7 126.4,312.7 127.7,311.1 129.0,309.7 130.3,310.1 131.6,312.0 132.8,313.1 134.1,310.3 135.4,312.0 136.7,311.4 138.0,310.9 139.3,311.6 140.6,312.3 141.8,311.4 143.1,311.3 144.4,312.0 145.7,313.7 147.0,313.6 148.3,311.4 149.6,311.2 150.8,314.0 152.1,310.9 153.4,311.5 154.7,312.6 156.0,312.6 157.3,314.0 158.6,310.1 159.8,311.4 161.1,312.2 162.4,312.0 163.7,312.4 165.0,313.1 166.3,311.6 167.6,314.4 168.8,313.0 170.1,312.9 171.4,313.2 172.7,313.7 174.0,312.7 175.3,314.6 176.6,314.0 177.8,315.1 179.1,315.9 180.4,316.1 181.7,315.1 183.0,314.4 184.3,314.6 185.6,315.4 186.8,315.9 188.1,313.1 189.4,313.6 190.7,314.2 192.0,313.9 193.3,313.3 194.6,316.3 195.9,315.4 197.1,313.6 198.4,315.3 199.7,315.7 201.0,317.0 202.3,315.0 203.6,314.4 204.9,315.7 206.1,317.4 207.4,318.1 208.7,316.2 210.0,315.4 211.3,314.8 212.6,315.8 213.9,317.2 215.1,316.3 216.4,315.7 217.7,316.6 219.0,319.0 220.3,316.8 221.6,317.4 222.9,316.2 224.1,317.9 225.4,316.3 226.7,315.6 228.0,317.7 229.3,316.0 230.6,317.6 231.9,316.5 233.1,318.0 234.4,317.6 235.7,317.4 237.0,316.0 238.3,318.6 239.6,316.2 240.9,316.1 242.1,317.5 243.4,313.9 244.7,318.4 246.0,315.5 247.3,318.2 248.6,317.7 249.9,318.4 251.1,315.1 252.4,317.0 253.7,318.5 255.0,317.1 256.3,317.9 257.6,317.5 258.9,317.2 260.1,318.7 261.4,316.7 262.7,319.1 264.0,318.0 265.3,316.9 266.6,318.3 267.9,317.0 268.6,320.6 269.9,322.5 271.2,321.5 272.5,324.0 273.8,322.9 275.1,326.2 276.3,323.0 277.6,328.5 278.9,327.8 280.2,333.9 281.5,328.2 282.8,336.0 284.1,338.9 285.3,331.5 286.6,334.8 287.9,344.0 289.2,341.6 290.5,346.4 291.8,338.9 293.1,345.5 294.4,363.4 295.6,339.7 296.9,361.4 298.2,348.0 299.5,367.2 300.8,363.6 302.1,344.1 303.4,373.4 304.6,374.9 305.9,391.1 307.2,382.8 308.5,364.2 309.8,361.2 311.1,383.0 312.4,356.1 313.6,397.1 314.9,371.5 316.2,397.0 317.5,372.2 318.8,394.1 320.1,387.4 321.4,375.0 322.6,388.8 323.9,379.6 325.2,361.5 326.5,379.5 327.8,369.7 329.1,364.1 330.4,361.8 331.6,405.0 332.9,371.8 334.2,390.6 335.5,369.3 336.8,390.6" fill="none" stroke="#CC9900" stroke-width="1.25" stroke-linejoin="round"/><polyline points="54.4,296.5 55.7,296.4 57.0,296.6 58.3,296.4 59.5,296.6 60.8,296.4 62.1,296.5 63.4,296.4 64.7,296.6 66.0,296.7 67.3,296.1 68.5,296.2 69.8,296.7 71.1,296.8 72.4,297.5 73.7,298.2 75.0,298.1 76.3,298.1 77.5,298.9 78.8,299.2 80.1,299.1 81.4,300.0 82.7,300.4 84.0,300.4 85.3,301.0 86.5,302.2 87.8,303.2 89.1,303.1 90.4,304.9 91.7,305.5 93.0,306.3 94.3,306.5 95.5,307.9 96.8,307.6 98.1,308.1 99.4,307.7 100.7,308.4 102.0,308.6 103.3,308.3 104.6,306.7 105.8,308.7 107.1,310.2 108.4,305.8 109.7,310.4 111.0,308.7 112.3,307.2 113.6,305.7 114.8,309.0 116.1,309.6 117.4,307.9 118.7,309.1 120.0,311.0 121.3,308.9 122.6,308.0 123.8,307.6 125.1,308.1 126.4,308.7 127.7,308.0 129.0,308.5 130.3,309.1 131.6,309.0 132.8,308.5 134.1,308.1 135.4,308.2 136.7,307.5 138.0,309.5 139.3,308.8 140.6,308.4 141.8,308.3 143.1,308.3 144.4,309.3 145.7,309.3 147.0,310.2 148.3,307.5 149.6,307.3 150.8,309.7 152.1,310.5 153.4,308.4 154.7,307.5 156.0,308.1 157.3,307.5 158.6,308.5 159.8,308.9 161.1,307.3 162.4,309.3 163.7,308.0 165.0,309.7 166.3,309.4 167.6,309.3 168.8,309.7 170.1,310.2 171.4,309.2 172.7,308.2 174.0,310.0 175.3,310.1 176.6,308.0 177.8,308.6 179.1,308.4 180.4,309.3 181.7,308.6 183.0,309.0 184.3,310.0 185.6,309.0 186.8,310.4 188.1,308.4 189.4,309.3 190.7,308.6 192.0,309.1 193.3,309.3 194.6,311.5 195.9,309.5 197.1,309.2 198.4,310.0 199.7,310.2 201.0,310.1 202.3,310.5 203.6,310.4 204.9,309.3 206.1,311.8 207.4,310.7 208.7,310.2 210.0,309.7 211.3,310.8 212.6,309.8 213.9,310.4 215.1,309.8 216.4,311.1 217.7,307.8 219.0,308.2 220.3,307.7 221.6,308.8 222.9,308.4 224.1,309.1 225.4,309.1 226.7,308.8 228.0,309.4 229.3,307.8 230.6,308.2 231.9,307.7 233.1,309.0 234.4,307.4 235.7,309.9 237.0,310.1 238.3,307.0 239.6,308.2 240.9,307.5 242.1,308.1 243.4,305.8 244.7,310.8 246.0,313.8 247.3,314.5 248.6,314.1 249.9,313.9 251.1,312.6 252.4,312.7 253.7,314.8 255.0,313.2 256.3,313.0 257.6,314.5 258.9,314.1 260.1,313.0 261.4,312.5 262.7,313.1 264.0,311.9 265.3,312.7 266.6,313.3 267.9,312.3 269.1,311.7 270.4,313.8 271.7,314.4 273.0,312.5 274.3,313.1 275.6,311.2 276.9,311.7 278.1,312.7 279.4,313.5 280.7,315.2 282.0,312.7 283.3,313.4 284.6,312.3 285.9,310.9 287.1,310.5 288.4,312.4 289.7,311.1 291.0,311.6 292.3,314.2 293.6,313.1 294.9,311.7 296.2,312.9 297.4,314.2 298.7,314.8 300.0,316.0 301.3,315.5 302.6,315.9 303.9,316.2 305.2,316.8 306.4,319.6 307.7,317.4 309.0,317.5 310.3,319.9 311.6,317.2 312.9,320.4 314.2,321.9 315.4,327.1 316.7,331.8 317.2,355.1 318.5,339.1 319.8,358.4 321.1,332.5 322.4,379.3 323.7,334.4 325.0,323.9 326.2,380.2 327.5,343.9 328.8,376.6 330.1,352.3 331.4,372.1 332.7,361.4 334.0,379.8 335.2,358.2 336.5,338.1" fill="none" stroke="#00CBCC" stroke-width="1.25" stroke-linejoin="round"/></g></g><g clip-path="url(#clipd)"><g style="filter:blur(0.35px)"><polyline points="398.9,453.2 400.3,453.2 401.6,453.2 403.0,453.2 404.4,453.2 405.8,453.2 407.1,453.2 408.5,453.1 409.9,452.8 411.3,452.6 412.6,452.1 414.0,451.6 415.4,451.1 416.8,450.5 418.1,449.6 419.5,448.7 420.9,448.0 422.3,447.4 423.6,446.0 425.0,445.8 426.4,444.5 427.8,443.5 429.1,443.2 430.5,442.7 431.9,440.5 433.3,440.2 434.6,439.1 436.0,439.2 437.4,437.3 438.7,436.0 440.1,435.1 441.5,436.1 442.9,435.2 444.2,434.3 445.6,435.1 447.0,434.0 448.4,433.6 449.7,434.8 451.1,433.7 452.5,434.1 453.9,434.1 455.2,434.8 456.6,435.1 458.0,433.6 459.4,432.0 460.7,434.2 462.1,435.3 463.5,434.0 464.9,436.3 466.2,434.1 467.6,433.9 469.0,433.6 470.3,432.2 471.7,433.7 473.1,433.9 474.5,433.4 475.8,431.9 477.2,435.3 478.6,432.4 480.0,431.1 481.3,433.2 482.7,433.7 484.1,433.1 485.5,430.0 486.8,431.6 488.2,434.1 489.6,434.0 491.0,430.4 492.3,431.7 493.7,432.3 495.1,431.2 496.5,432.0 497.8,431.4 499.2,430.3 500.6,428.8 502.0,431.7 503.3,428.2 504.7,432.6 506.1,431.4 507.4,432.3 508.8,430.4 510.2,430.6 511.6,432.0 512.9,431.9 514.3,429.4 515.7,431.2 517.1,432.3 518.4,431.1 519.8,429.3 521.2,430.1 522.6,428.8 523.9,427.9 525.3,428.8 526.7,427.7 528.1,428.4 529.4,431.8 530.8,430.9 532.2,434.5 533.6,427.5 534.9,429.2 536.3,431.9 537.7,428.3 539.1,430.2 540.4,427.4 541.8,427.4 543.2,426.6 544.5,425.1 545.9,428.2 547.3,426.9 548.7,426.5 550.0,428.1 551.4,430.3 552.8,428.0 554.2,426.0 555.5,426.4 556.9,427.7 558.3,428.8 559.7,425.8 561.0,424.8 562.4,424.2 563.8,426.7 565.2,426.8 566.5,426.4 567.9,431.3 569.3,429.9 570.7,427.9 572.0,427.5 573.4,426.1 574.8,426.6 576.1,427.5 577.5,427.8 578.9,427.8 580.3,426.9 581.6,427.9 583.0,427.8 584.4,428.4 585.8,430.5 587.1,425.3 588.5,428.0 589.9,428.6 591.3,426.3 592.6,429.0 594.0,427.2 595.4,426.7 596.8,429.7 598.1,427.9 599.5,426.9 600.9,427.5 602.3,427.1 603.6,427.5 605.0,427.1 606.4,426.0 607.8,428.0 609.1,429.0 610.5,428.4 611.9,424.9 613.2,427.3 614.6,424.9 616.0,427.3 617.4,427.0 618.7,425.2 620.1,425.2 621.5,427.3 622.9,425.1 624.2,425.2 624.8,423.3 625.8,418.2 626.7,422.4 627.7,414.2 628.6,411.6 629.6,415.3 630.6,408.4 631.5,417.1 632.5,403.1 633.4,401.8 634.4,395.8 635.4,403.2 636.3,395.3 637.3,404.6 638.3,390.8 639.2,393.2 640.2,376.9 641.1,378.6 642.1,366.3 643.1,387.6 644.0,408.7 645.0,357.1 646.0,393.1 646.9,320.0 647.9,383.8 648.8,326.1 649.8,340.9 650.8,317.6 651.7,360.2 652.7,358.8 653.6,337.6 654.6,372.5 655.6,317.6 656.5,370.5 657.5,303.7 658.5,325.6 659.4,349.6 660.4,332.9 661.3,369.8 662.3,314.6 663.3,355.3 664.2,319.8 665.2,339.7 666.1,315.7 667.1,345.2 668.1,338.3 669.0,308.6 670.0,304.0 671.0,309.3 671.9,304.7 672.9,338.6 673.8,313.4 674.8,331.4 675.8,313.8 676.7,344.5 677.7,346.6 678.7,339.0 679.6,318.4 680.6,340.9" fill="none" stroke="#515151" stroke-width="1.5" stroke-linejoin="round"/><polyline points="398.9,453.2 400.3,453.2 401.6,453.2 403.0,453.2 404.4,453.2 405.8,453.2 407.1,453.0 408.5,452.8 409.9,452.6 411.3,452.1 412.6,451.6 414.0,451.1 415.4,450.4 416.8,449.3 418.1,448.8 419.5,448.0 420.9,447.2 422.3,446.3 423.6,445.6 425.0,444.4 426.4,443.2 427.8,443.2 429.1,442.6 430.5,442.3 431.9,440.8 433.3,439.3 434.6,439.2 436.0,438.3 437.4,436.9 438.7,436.1 440.1,435.0 441.5,435.0 442.9,434.0 444.2,433.8 445.6,433.0 447.0,433.5 448.4,433.7 449.7,431.6 451.1,435.3 452.5,433.1 453.9,433.3 455.2,433.8 456.6,433.4 458.0,432.5 459.4,432.0 460.7,433.6 462.1,433.6 463.5,433.2 464.9,433.3 466.2,431.8 467.6,432.2 469.0,432.5 470.3,433.9 471.7,431.6 473.1,432.8 474.5,433.7 475.8,431.3 477.2,432.9 478.6,432.6 480.0,431.4 481.3,432.8 482.7,430.6 484.1,432.3 485.5,429.9 486.8,434.2 488.2,432.3 489.6,430.3 491.0,431.1 492.3,434.7 493.7,430.7 495.1,430.9 496.5,429.7 497.8,428.9 499.2,430.6 500.6,430.0 502.0,432.3 503.3,431.3 504.7,428.5 506.1,429.9 507.4,431.1 508.8,429.4 510.2,429.4 511.6,427.7 512.9,428.2 514.3,430.7 515.7,428.9 517.1,430.0 518.4,428.2 519.8,429.0 521.2,428.7 522.6,427.2 523.9,427.5 525.3,427.6 526.7,428.7 528.1,428.7 529.4,426.5 530.8,428.3 532.2,429.3 533.6,429.4 534.9,426.6 536.3,428.8 537.7,428.6 539.1,428.1 540.4,427.9 541.8,429.4 543.2,427.2 544.5,427.5 545.9,427.7 547.3,426.8 548.7,428.7 550.0,426.6 551.4,427.0 552.8,428.3 554.2,425.8 555.5,427.6 556.9,426.5 558.3,422.9 559.7,426.2 561.0,424.7 562.4,427.3 563.8,424.6 565.2,425.5 566.5,426.3 567.9,424.0 569.3,422.5 570.7,425.6 572.0,427.2 573.4,425.4 574.8,424.2 576.1,425.2 577.5,424.7 578.9,427.8 580.3,426.2 581.6,426.0 583.0,425.0 584.4,426.9 585.8,426.4 587.1,425.6 588.5,425.8 589.9,425.7 591.3,424.5 592.6,427.0 594.0,425.5 595.4,426.5 596.8,424.9 598.1,426.3 599.5,424.9 600.9,424.3 602.3,427.2 603.6,425.7 605.0,422.2 606.4,426.6 607.8,423.5 609.1,423.6 610.5,424.0 611.9,422.7 613.2,424.7 614.6,421.6 616.0,422.8 617.4,424.7 618.7,424.0 620.1,424.2 621.5,422.1 622.9,420.7 624.2,421.7 624.8,419.2 625.8,416.4 626.7,420.8 627.7,411.9 628.6,409.8 629.6,411.7 630.6,414.6 631.5,405.6 632.5,415.0 633.4,406.0 634.4,408.7 635.4,403.0 636.3,406.0 637.3,392.3 638.3,417.7 639.2,386.1 640.2,400.3 641.1,408.1 642.1,399.4 643.1,388.5 644.0,399.0 645.0,386.0 646.0,391.6 646.9,377.2 647.9,372.6 648.8,396.5 649.8,370.0 650.8,347.2 651.7,376.0 652.7,358.9 653.6,388.5 654.6,350.0 655.6,373.5 656.5,345.5 657.5,367.7 658.5,328.3 659.4,368.3 660.4,362.4 661.3,354.6 662.3,330.7 663.3,345.0 664.2,376.5 665.2,361.0 666.1,356.7 667.1,352.5 668.1,319.7 669.0,303.7 670.0,331.1 671.0,304.4 671.9,318.0 672.9,332.1 673.8,340.7 674.8,346.9 675.8,311.8 676.7,339.3 677.7,323.1 678.7,354.1 679.6,324.5 680.6,339.6" fill="none" stroke="#F14040" stroke-width="1.5" stroke-linejoin="round"/><polyline points="398.9,453.2 400.3,453.2 401.6,453.2 403.0,453.2 404.4,453.2 405.8,453.2 407.1,453.2 408.5,453.0 409.9,452.8 411.3,452.5 412.6,452.0 414.0,451.5 415.4,450.9 416.8,450.3 418.1,449.5 419.5,448.6 420.9,447.8 422.3,446.8 423.6,446.2 425.0,445.0 426.4,444.2 427.8,443.5 429.1,442.0 430.5,441.5 431.9,440.9 433.3,439.5 434.6,438.8 436.0,437.6 437.4,436.6 438.7,436.4 440.1,434.7 441.5,434.3 442.9,434.0 444.2,433.5 445.6,433.0 447.0,433.3 448.4,433.2 449.7,434.3 451.1,432.9 452.5,433.2 453.9,432.2 455.2,433.7 456.6,433.1 458.0,432.1 459.4,430.9 460.7,432.3 462.1,433.5 463.5,431.9 464.9,433.1 466.2,431.9 467.6,431.0 469.0,432.5 470.3,431.0 471.7,430.2 473.1,431.5 474.5,431.0 475.8,431.9 477.2,429.3 478.6,429.3 480.0,432.0 481.3,429.0 482.7,429.7 484.1,430.5 485.5,432.0 486.8,430.8 488.2,428.9 489.6,430.9 491.0,427.7 492.3,429.7 493.7,430.4 495.1,427.7 496.5,428.8 497.8,428.7 499.2,429.0 500.6,429.0 502.0,430.0 503.3,427.4 504.7,427.3 506.1,429.3 507.4,427.5 508.8,428.3 510.2,425.2 511.6,427.9 512.9,427.7 514.3,426.5 515.7,425.7 517.1,427.4 518.4,427.3 519.8,425.8 521.2,424.6 522.6,426.0 523.9,426.1 525.3,426.5 526.7,426.4 528.1,427.5 529.4,428.0 530.8,426.6 532.2,424.3 533.6,424.7 534.9,426.8 536.3,421.2 537.7,424.6 539.1,425.6 540.4,424.8 541.8,424.3 543.2,425.2 544.5,422.4 545.9,424.1 547.3,424.2 548.7,422.7 550.0,422.1 551.4,423.4 552.8,421.9 554.2,423.9 555.5,422.0 556.9,421.5 558.3,422.6 559.7,421.9 561.0,421.2 562.4,421.4 563.8,422.7 565.2,419.1 566.5,421.1 567.9,420.0 569.3,423.9 570.7,420.7 572.0,421.5 573.4,420.5 574.8,420.7 576.1,420.2 577.5,422.2 578.9,421.2 580.3,422.4 581.6,421.5 583.0,419.3 584.4,420.1 585.8,419.5 587.1,420.0 588.5,419.4 589.9,421.0 591.3,420.9 592.6,421.0 594.0,422.2 595.4,420.6 596.8,420.5 598.1,417.3 599.5,420.8 600.9,418.3 602.3,419.7 603.6,419.8 605.0,419.9 606.4,417.9 607.8,420.9 609.1,416.8 610.5,419.4 611.9,421.7 613.2,420.2 614.6,420.4 616.0,418.8 617.4,419.1 618.7,417.4 620.1,417.0 621.5,416.4 622.9,416.8 624.2,411.3 625.2,415.7 626.2,414.7 627.1,406.9 628.1,411.8 629.0,403.9 630.0,400.5 631.0,399.0 631.9,399.6 632.9,404.0 633.9,391.2 634.8,399.9 635.8,391.8 636.7,400.8 637.7,395.6 638.7,394.5 639.6,394.1 640.6,381.5 641.6,390.5 642.5,375.1 643.5,399.2 644.4,364.8 645.4,380.0 646.4,370.7 647.3,382.7 648.3,363.6 649.2,379.5 650.2,364.9 651.2,371.7 652.1,357.5 653.1,378.3 654.1,335.1 655.0,341.7 656.0,367.2 656.9,341.9 657.9,375.1 658.9,349.0 659.8,358.6 660.8,342.6 661.8,353.2 662.7,352.9 663.7,319.0 664.6,345.4 665.6,331.0 666.6,360.1 667.5,323.4 668.5,352.5 669.4,311.3 670.4,348.7 671.4,310.0 672.3,309.7 673.3,340.0 674.3,303.0 675.2,367.4 676.2,319.7 677.1,346.6 678.1,353.4 679.1,304.1 680.0,352.2 681.0,335.4" fill="none" stroke="#1A6FDF" stroke-width="1.5" stroke-linejoin="round"/><polyline points="398.9,453.2 400.3,453.2 401.6,453.2 403.0,453.2 404.4,453.2 405.8,453.2 407.1,453.2 408.5,453.1 409.9,452.9 411.3,452.6 412.6,452.3 414.0,451.7 415.4,451.0 416.8,450.5 418.1,449.8 419.5,448.8 420.9,448.1 422.3,447.1 423.6,445.7 425.0,445.1 426.4,444.1 427.8,442.9 429.1,442.2 430.5,440.7 431.9,440.9 433.3,439.6 434.6,438.0 436.0,437.8 437.4,436.3 438.7,435.0 440.1,435.0 441.5,434.1 442.9,433.7 444.2,433.1 445.6,432.6 447.0,431.4 448.4,433.2 449.7,432.9 451.1,432.3 452.5,433.0 453.9,431.2 455.2,433.0 456.6,431.4 458.0,431.9 459.4,431.5 460.7,432.6 462.1,430.4 463.5,432.0 464.9,430.6 466.2,431.2 467.6,432.5 469.0,430.8 470.3,431.3 471.7,431.5 473.1,431.5 474.5,431.6 475.8,430.6 477.2,430.6 478.6,433.5 480.0,431.4 481.3,429.8 482.7,430.1 484.1,429.4 485.5,430.8 486.8,430.0 488.2,430.3 489.6,427.8 491.0,428.8 492.3,430.0 493.7,429.6 495.1,428.9 496.5,429.5 497.8,427.2 499.2,428.2 500.6,427.1 502.0,427.5 503.3,428.0 504.7,426.8 506.1,431.3 507.4,427.4 508.8,426.3 510.2,426.4 511.6,427.1 512.9,426.3 514.3,428.7 515.7,424.9 517.1,425.0 518.4,425.1 519.8,426.7 521.2,426.1 522.6,425.0 523.9,424.3 525.3,425.1 526.7,425.3 528.1,425.1 529.4,425.4 530.8,425.1 532.2,423.0 533.6,425.3 534.9,424.8 536.3,423.1 537.7,423.4 539.1,421.7 540.4,422.6 541.8,423.7 543.2,422.0 544.5,424.1 545.9,421.3 547.3,424.7 548.7,419.0 550.0,422.5 551.4,420.5 552.8,424.3 554.2,424.0 555.5,422.9 556.9,422.5 558.3,421.9 559.7,423.4 561.0,423.6 562.4,421.6 563.8,420.4 565.2,423.2 566.5,424.2 567.9,421.7 569.3,421.8 570.7,421.1 572.0,422.5 573.4,420.9 574.8,420.4 576.1,417.9 577.5,421.1 578.9,421.3 580.3,419.7 581.6,421.9 583.0,421.2 584.4,421.9 585.8,420.3 587.1,420.8 588.5,420.9 589.9,420.1 591.3,421.5 592.6,421.9 594.0,419.7 595.4,420.0 596.8,418.5 598.1,420.4 599.5,420.5 600.9,420.0 602.3,418.3 603.6,418.9 605.0,418.2 606.4,417.1 607.8,416.7 609.1,417.2 610.5,416.8 611.9,420.7 613.2,417.4 614.6,417.1 616.0,418.3 617.4,417.8 618.7,417.1 620.1,415.1 621.5,415.9 622.9,413.7 624.2,419.6 624.8,417.9 625.8,416.5 626.7,411.0 627.7,415.6 628.6,409.6 629.6,412.0 630.6,402.2 631.5,412.5 632.5,409.5 633.4,412.3 634.4,397.6 635.4,394.8 636.3,391.1 637.3,407.2 638.3,392.0 639.2,378.6 640.2,403.0 641.1,381.4 642.1,399.4 643.1,395.0 644.0,373.2 645.0,363.0 646.0,368.2 646.9,377.6 647.9,364.9 648.8,371.6 649.8,377.9 650.8,353.2 651.7,381.5 652.7,353.0 653.6,338.7 654.6,369.0 655.6,345.1 656.5,320.4 657.5,357.5 658.5,329.9 659.4,349.3 660.4,331.1 661.3,344.3 662.3,309.1 663.3,327.1 664.2,339.7 665.2,306.9 666.1,320.2 667.1,343.7 668.1,322.3 669.0,318.7 670.0,309.5 671.0,329.3 671.9,312.8 672.9,335.4 673.8,309.3 674.8,345.2 675.8,332.3 676.7,333.5 677.7,307.0 678.7,307.0 679.6,308.2 680.6,320.6" fill="none" stroke="#37AD6B" stroke-width="1.5" stroke-linejoin="round"/><polyline points="398.9,453.2 400.3,453.2 401.6,453.2 403.0,453.2 404.4,453.2 405.8,453.2 407.1,453.2 408.5,453.2 409.9,452.9 411.3,452.7 412.6,452.4 414.0,451.8 415.4,451.3 416.8,450.7 418.1,449.9 419.5,449.0 420.9,448.4 422.3,447.5 423.6,447.1 425.0,445.3 426.4,444.8 427.8,443.4 429.1,442.4 430.5,442.3 431.9,441.0 433.3,439.9 434.6,438.6 436.0,437.9 437.4,438.2 438.7,437.4 440.1,435.9 441.5,434.3 442.9,434.1 444.2,433.4 445.6,434.4 447.0,433.8 448.4,433.6 449.7,433.8 451.1,432.4 452.5,433.4 453.9,431.1 455.2,432.8 456.6,432.8 458.0,433.0 459.4,432.4 460.7,432.9 462.1,432.9 463.5,432.3 464.9,434.9 466.2,433.2 467.6,432.8 469.0,431.1 470.3,433.8 471.7,431.4 473.1,432.1 474.5,431.9 475.8,430.9 477.2,432.5 478.6,431.7 480.0,431.3 481.3,430.8 482.7,431.9 484.1,430.9 485.5,430.9 486.8,428.0 488.2,430.3 489.6,432.4 491.0,430.8 492.3,430.2 493.7,428.8 495.1,430.1 496.5,429.7 497.8,429.9 499.2,429.8 500.6,429.6 502.0,429.1 503.3,427.6 504.7,428.3 506.1,429.8 507.4,428.6 508.8,427.6 510.2,429.7 511.6,429.1 512.9,428.5 514.3,429.2 515.7,429.3 517.1,429.5 518.4,429.3 519.8,427.5 521.2,426.9 522.6,426.3 523.9,427.6 525.3,426.4 526.7,426.5 528.1,426.8 529.4,428.2 530.8,426.8 532.2,426.7 533.6,426.6 534.9,424.9 536.3,426.3 537.7,424.0 539.1,425.9 540.4,425.1 541.8,424.4 543.2,425.3 544.5,427.1 545.9,425.3 547.3,421.9 548.7,425.0 550.0,426.4 551.4,426.4 552.8,425.4 554.2,425.6 555.5,424.1 556.9,425.4 558.3,426.5 559.7,423.8 561.0,425.6 562.4,426.5 563.8,422.7 565.2,425.8 566.5,423.8 567.9,422.8 569.3,422.5 570.7,423.6 572.0,424.2 573.4,423.0 574.8,423.7 576.1,423.8 577.5,422.4 578.9,423.3 580.3,422.9 581.6,422.5 583.0,423.9 584.4,422.1 585.8,421.3 587.1,420.6 588.5,421.3 589.9,423.3 591.3,421.5 592.6,422.6 594.0,421.6 595.4,423.1 596.8,422.4 598.1,421.1 599.5,424.6 600.9,420.4 602.3,421.8 603.6,422.4 605.0,422.6 606.4,419.7 607.8,420.8 609.1,422.4 610.5,422.2 611.9,416.2 613.2,421.3 614.6,422.2 616.0,423.2 617.4,422.7 618.7,421.4 620.1,421.8 621.5,420.4 622.9,422.3 624.2,422.1 625.3,421.5 626.3,420.6 627.3,415.7 628.2,421.4 629.2,412.2 630.1,413.4 631.1,418.5 632.1,409.0 633.0,415.3 634.0,407.4 635.0,415.0 635.9,403.0 636.9,409.2 637.8,413.7 638.8,412.0 639.8,400.8 640.7,407.9 641.7,396.8 642.7,405.7 643.6,389.1 644.6,406.0 645.5,392.0 646.5,407.7 647.5,387.7 648.4,396.8 649.4,390.0 650.3,377.5 651.3,380.9 652.3,384.0 653.2,395.3 654.2,375.2 655.2,376.6 656.1,384.0 657.1,400.1 658.0,396.8 659.0,355.6 660.0,360.2 660.9,382.8 661.9,362.5 662.9,341.6 663.8,374.1 664.8,337.3 665.7,393.3 666.7,330.8 667.7,343.1 668.6,327.5 669.6,358.2 670.5,349.5 671.5,333.0 672.5,356.4 673.4,333.2 674.4,334.5 675.4,355.2 676.3,312.5 677.3,332.8 678.2,348.4 679.2,347.1 680.2,328.6 681.1,348.9" fill="none" stroke="#B177DE" stroke-width="1.5" stroke-linejoin="round"/><polyline points="398.9,453.2 400.3,453.2 401.6,453.2 403.0,453.2 404.4,453.2 405.8,453.2 407.1,453.2 408.5,453.2 409.9,453.0 411.3,452.8 412.6,452.6 414.0,452.1 415.4,451.6 416.8,451.2 418.1,450.7 419.5,449.9 420.9,449.1 422.3,448.2 423.6,447.6 425.0,446.9 426.4,445.6 427.8,445.4 429.1,443.8 430.5,443.6 431.9,442.3 433.3,441.2 434.6,441.3 436.0,440.2 437.4,438.6 438.7,437.7 440.1,437.3 441.5,436.7 442.9,436.6 444.2,436.2 445.6,436.7 447.0,437.0 448.4,434.9 449.7,435.7 451.1,435.1 452.5,436.6 453.9,434.1 455.2,437.5 456.6,434.5 458.0,434.5 459.4,435.3 460.7,434.8 462.1,433.5 463.5,435.2 464.9,433.4 466.2,436.2 467.6,435.6 469.0,436.0 470.3,435.4 471.7,434.4 473.1,435.6 474.5,435.2 475.8,433.9 477.2,434.0 478.6,434.2 480.0,434.3 481.3,432.8 482.7,433.2 484.1,434.3 485.5,431.9 486.8,433.4 488.2,433.5 489.6,433.2 491.0,434.7 492.3,433.2 493.7,432.0 495.1,431.9 496.5,432.4 497.8,433.8 499.2,432.8 500.6,433.7 502.0,431.5 503.3,432.8 504.7,432.6 506.1,432.3 507.4,432.8 508.8,431.4 510.2,432.1 511.6,432.0 512.9,430.1 514.3,433.6 515.7,430.6 517.1,432.0 518.4,431.0 519.8,432.4 521.2,430.7 522.6,431.7 523.9,431.7 525.3,430.3 526.7,429.7 528.1,429.8 529.4,431.4 530.8,430.8 532.2,430.9 533.6,429.1 534.9,430.2 536.3,428.5 537.7,426.5 539.1,427.3 540.4,428.6 541.8,428.3 543.2,429.2 544.5,428.3 545.9,427.1 547.3,429.2 548.7,428.9 550.0,425.0 551.4,427.5 552.8,429.7 554.2,428.5 555.5,427.3 556.9,426.6 558.3,428.7 559.7,427.4 561.0,427.6 562.4,427.3 563.8,426.6 565.2,427.0 566.5,426.6 567.9,426.2 569.3,427.4 570.7,425.6 572.0,427.4 573.4,427.5 574.8,426.5 576.1,424.7 577.5,425.7 578.9,424.7 580.3,426.9 581.6,424.6 583.0,428.8 584.4,427.8 585.8,425.7 587.1,427.5 588.5,429.6 589.9,427.5 591.3,427.3 592.6,424.9 594.0,425.9 595.4,424.6 596.8,425.4 598.1,426.1 599.5,426.8 600.9,427.7 602.3,427.1 603.6,426.5 605.0,426.9 606.4,429.3 607.8,428.5 609.1,427.8 610.5,429.0 611.9,427.4 613.2,427.4 614.6,430.0 616.0,428.8 617.4,428.6 618.7,428.6 620.1,426.0 621.5,427.2 622.9,428.5 624.2,425.0 625.6,424.8 627.0,425.5 628.4,424.2 629.7,425.6 631.1,424.8 632.5,424.5 633.0,423.5 634.0,415.8 635.0,419.4 635.9,420.8 636.9,416.7 637.8,420.9 638.8,411.3 639.8,418.7 640.7,418.9 641.7,420.5 642.7,413.7 643.6,420.2 644.6,409.7 645.5,417.8 646.5,411.5 647.5,416.0 648.4,414.1 649.4,419.2 650.3,411.2 651.3,407.6 652.3,409.1 653.2,402.9 654.2,413.5 655.2,405.9 656.1,397.1 657.1,393.1 658.0,407.5 659.0,389.0 660.0,396.4 660.9,381.9 661.9,393.0 662.9,367.4 663.8,385.5 664.8,346.1 665.7,354.6 666.7,374.2 667.7,362.3 668.6,335.5 669.6,330.0 670.5,336.9 671.5,333.6 672.5,358.6 673.4,329.7 674.4,328.7 675.4,347.8 676.3,316.4 677.3,339.4 678.2,305.6 679.2,317.9 680.2,358.3 681.1,309.8" fill="none" stroke="#CC9900" stroke-width="1.5" stroke-linejoin="round"/><polyline points="398.9,453.2 400.3,453.2 401.6,453.2 403.0,453.2 404.4,453.2 405.8,453.2 407.1,453.2 408.5,453.2 409.9,453.2 411.3,453.2 412.6,453.2 414.0,453.2 415.4,453.2 416.8,453.2 418.1,453.2 419.5,453.2 420.9,453.2 422.3,452.7 423.6,452.2 425.0,451.7 426.4,451.2 427.8,450.7 429.1,450.3 430.5,449.6 431.9,449.2 433.3,448.5 434.6,448.0 436.0,447.8 437.4,447.2 438.7,446.6 440.1,445.9 441.5,446.0 442.9,445.6 444.2,445.2 445.6,445.6 447.0,445.8 448.4,445.2 449.7,445.3 451.1,444.8 452.5,446.0 453.9,445.0 455.2,445.3 456.6,445.3 458.0,445.3 459.4,444.5 460.7,444.3 462.1,444.4 463.5,445.6 464.9,445.0 466.2,445.1 467.6,444.2 469.0,444.4 470.3,444.9 471.7,444.4 473.1,443.5 474.5,445.1 475.8,445.2 477.2,445.0 478.6,444.4 480.0,444.7 481.3,444.6 482.7,444.7 484.1,445.0 485.5,443.6 486.8,442.7 488.2,444.0 489.6,444.5 491.0,443.8 492.3,443.8 493.7,444.7 495.1,443.7 496.5,443.3 497.8,442.5 499.2,441.0 500.6,443.7 502.0,445.8 503.3,442.4 504.7,442.2 506.1,443.8 507.4,443.8 508.8,444.6 510.2,445.5 511.6,446.4 512.9,445.1 514.3,443.3 515.7,442.5 517.1,442.7 518.4,443.0 519.8,442.7 521.2,442.1 522.6,444.6 523.9,444.5 525.3,443.3 526.7,442.2 528.1,443.7 529.4,443.6 530.8,442.4 532.2,444.1 533.6,443.7 534.9,441.9 536.3,443.8 537.7,443.2 539.1,445.5 540.4,442.6 541.8,442.2 543.2,441.7 544.5,438.4 545.9,437.9 547.3,435.4 548.7,436.2 550.0,434.8 551.4,437.0 552.8,436.1 554.2,436.0 555.5,436.5 556.9,436.3 558.3,435.6 559.7,436.4 561.0,435.1 562.4,438.5 563.8,433.6 565.2,436.0 566.5,437.6 567.9,436.7 569.3,438.8 570.7,438.7 572.0,441.0 573.4,439.9 574.8,441.0 576.1,441.9 577.5,438.6 578.9,440.1 580.3,439.8 581.6,442.1 583.0,440.5 584.4,439.1 585.8,441.1 587.1,437.2 588.5,441.7 589.9,440.6 591.3,442.7 592.6,439.9 594.0,440.0 595.4,438.6 596.8,438.4 598.1,439.3 599.5,440.7 600.9,440.4 602.3,440.6 603.6,440.3 605.0,442.4 606.4,439.3 607.8,441.9 609.1,439.7 610.5,441.2 611.9,442.6 613.2,440.8 614.6,440.1 616.0,441.1 617.4,440.2 618.7,439.7 620.1,441.5 621.5,438.9 622.9,440.0 624.2,440.8 625.6,439.7 627.0,440.6 628.4,439.9 629.7,441.4 631.1,440.0 632.5,439.1 633.9,437.0 635.2,439.6 636.6,438.2 638.0,439.7 639.4,437.7 640.7,437.4 642.1,437.8 643.5,439.5 644.9,438.9 646.2,438.3 647.6,438.1 649.0,438.3 650.3,437.1 651.7,436.4 653.1,439.1 654.5,436.8 655.8,436.1 657.2,434.5 658.6,429.8 660.0,434.3 661.3,431.8 662.7,429.4 664.1,426.9 665.5,423.7 666.8,413.6 668.2,399.4 669.6,406.9 671.0,409.9 672.3,417.4 673.7,409.7 675.1,397.6 676.5,390.1 677.8,409.6 679.2,371.9 680.6,356.7" fill="none" stroke="#00CBCC" stroke-width="1.5" stroke-linejoin="round"/></g></g><line x1="54.5" y1="211.60" x2="58.10" y2="211.60" stroke="#222" stroke-width="1"/><text x="49.9" y="215.0" font-size="10" text-anchor="end" fill="#333">0</text><line x1="54.5" y1="179.37" x2="58.10" y2="179.37" stroke="#222" stroke-width="1"/><text x="49.9" y="182.8" font-size="10" text-anchor="end" fill="#333">1000</text><line x1="54.5" y1="147.13" x2="58.10" y2="147.13" stroke="#222" stroke-width="1"/><text x="49.9" y="150.5" font-size="10" text-anchor="end" fill="#333">2000</text><line x1="54.5" y1="114.90" x2="58.10" y2="114.90" stroke="#222" stroke-width="1"/><text x="49.9" y="118.3" font-size="10" text-anchor="end" fill="#333">3000</text><line x1="54.5" y1="82.67" x2="58.10" y2="82.67" stroke="#222" stroke-width="1"/><text x="49.9" y="86.1" font-size="10" text-anchor="end" fill="#333">4000</text><line x1="54.5" y1="50.43" x2="58.10" y2="50.43" stroke="#222" stroke-width="1"/><text x="49.9" y="53.8" font-size="10" text-anchor="end" fill="#333">5000</text><line x1="54.5" y1="18.20" x2="58.10" y2="18.20" stroke="#222" stroke-width="1"/><text x="49.9" y="21.6" font-size="10" text-anchor="end" fill="#333">6000</text><line x1="54.5" y1="195.48" x2="56.50" y2="195.48" stroke="#222" stroke-width="1"/><line x1="54.5" y1="163.25" x2="56.50" y2="163.25" stroke="#222" stroke-width="1"/><line x1="54.5" y1="131.02" x2="56.50" y2="131.02" stroke="#222" stroke-width="1"/><line x1="54.5" y1="98.78" x2="56.50" y2="98.78" stroke="#222" stroke-width="1"/><line x1="54.5" y1="66.55" x2="56.50" y2="66.55" stroke="#222" stroke-width="1"/><line x1="54.5" y1="34.32" x2="56.50" y2="34.32" stroke="#222" stroke-width="1"/><line x1="54.50" y1="211.6" x2="54.50" y2="208.00" stroke="#222" stroke-width="1"/><text x="54.5" y="224.4" font-size="10" text-anchor="middle" fill="#333">0</text><line x1="107.96" y1="211.6" x2="107.96" y2="208.00" stroke="#222" stroke-width="1"/><text x="108.0" y="224.4" font-size="10" text-anchor="middle" fill="#333">200</text><line x1="161.42" y1="211.6" x2="161.42" y2="208.00" stroke="#222" stroke-width="1"/><text x="161.4" y="224.4" font-size="10" text-anchor="middle" fill="#333">400</text><line x1="214.88" y1="211.6" x2="214.88" y2="208.00" stroke="#222" stroke-width="1"/><text x="214.9" y="224.4" font-size="10" text-anchor="middle" fill="#333">600</text><line x1="268.34" y1="211.6" x2="268.34" y2="208.00" stroke="#222" stroke-width="1"/><text x="268.3" y="224.4" font-size="10" text-anchor="middle" fill="#333">800</text><line x1="321.80" y1="211.6" x2="321.80" y2="208.00" stroke="#222" stroke-width="1"/><text x="321.8" y="224.4" font-size="10" text-anchor="middle" fill="#333">1000</text><line x1="81.23" y1="211.6" x2="81.23" y2="209.60" stroke="#222" stroke-width="1"/><line x1="134.69" y1="211.6" x2="134.69" y2="209.60" stroke="#222" stroke-width="1"/><line x1="188.15" y1="211.6" x2="188.15" y2="209.60" stroke="#222" stroke-width="1"/><line x1="241.61" y1="211.6" x2="241.61" y2="209.60" stroke="#222" stroke-width="1"/><line x1="295.07" y1="211.6" x2="295.07" y2="209.60" stroke="#222" stroke-width="1"/><rect x="54.5" y="18.2" width="282.80" height="193.40" fill="none" stroke="#333" stroke-width="1.5"/><line x1="400.3" y1="211.60" x2="403.90" y2="211.60" stroke="#222" stroke-width="1"/><text x="395.7" y="215.0" font-size="10" text-anchor="end" fill="#333">0</text><line x1="400.3" y1="187.42" x2="403.90" y2="187.42" stroke="#222" stroke-width="1"/><text x="395.7" y="190.8" font-size="10" text-anchor="end" fill="#333">10000</text><line x1="400.3" y1="163.25" x2="403.90" y2="163.25" stroke="#222" stroke-width="1"/><text x="395.7" y="166.7" font-size="10" text-anchor="end" fill="#333">20000</text><line x1="400.3" y1="139.07" x2="403.90" y2="139.07" stroke="#222" stroke-width="1"/><text x="395.7" y="142.5" font-size="10" text-anchor="end" fill="#333">30000</text><line x1="400.3" y1="114.90" x2="403.90" y2="114.90" stroke="#222" stroke-width="1"/><text x="395.7" y="118.3" font-size="10" text-anchor="end" fill="#333">40000</text><line x1="400.3" y1="90.72" x2="403.90" y2="90.72" stroke="#222" stroke-width="1"/><text x="395.7" y="94.1" font-size="10" text-anchor="end" fill="#333">50000</text><line x1="400.3" y1="66.55" x2="403.90" y2="66.55" stroke="#222" stroke-width="1"/><text x="395.7" y="69.9" font-size="10" text-anchor="end" fill="#333">60000</text><line x1="400.3" y1="42.38" x2="403.90" y2="42.38" stroke="#222" stroke-width="1"/><text x="395.7" y="45.8" font-size="10" text-anchor="end" fill="#333">70000</text><line x1="400.3" y1="18.20" x2="403.90" y2="18.20" stroke="#222" stroke-width="1"/><text x="395.7" y="21.6" font-size="10" text-anchor="end" fill="#333">80000</text><line x1="400.3" y1="199.51" x2="402.30" y2="199.51" stroke="#222" stroke-width="1"/><line x1="400.3" y1="175.34" x2="402.30" y2="175.34" stroke="#222" stroke-width="1"/><line x1="400.3" y1="151.16" x2="402.30" y2="151.16" stroke="#222" stroke-width="1"/><line x1="400.3" y1="126.99" x2="402.30" y2="126.99" stroke="#222" stroke-width="1"/><line x1="400.3" y1="102.81" x2="402.30" y2="102.81" stroke="#222" stroke-width="1"/><line x1="400.3" y1="78.64" x2="402.30" y2="78.64" stroke="#222" stroke-width="1"/><line x1="400.3" y1="54.46" x2="402.30" y2="54.46" stroke="#222" stroke-width="1"/><line x1="400.3" y1="30.29" x2="402.30" y2="30.29" stroke="#222" stroke-width="1"/><line x1="400.30" y1="211.6" x2="400.30" y2="208.00" stroke="#222" stroke-width="1"/><text x="400.3" y="224.4" font-size="10" text-anchor="middle" fill="#333">0</text><line x1="453.74" y1="211.6" x2="453.74" y2="208.00" stroke="#222" stroke-width="1"/><text x="453.7" y="224.4" font-size="10" text-anchor="middle" fill="#333">200</text><line x1="507.18" y1="211.6" x2="507.18" y2="208.00" stroke="#222" stroke-width="1"/><text x="507.2" y="224.4" font-size="10" text-anchor="middle" fill="#333">400</text><line x1="560.62" y1="211.6" x2="560.62" y2="208.00" stroke="#222" stroke-width="1"/><text x="560.6" y="224.4" font-size="10" text-anchor="middle" fill="#333">600</text><line x1="614.06" y1="211.6" x2="614.06" y2="208.00" stroke="#222" stroke-width="1"/><text x="614.1" y="224.4" font-size="10" text-anchor="middle" fill="#333">800</text><line x1="667.50" y1="211.6" x2="667.50" y2="208.00" stroke="#222" stroke-width="1"/><text x="667.5" y="224.4" font-size="10" text-anchor="middle" fill="#333">1000</text><line x1="427.02" y1="211.6" x2="427.02" y2="209.60" stroke="#222" stroke-width="1"/><line x1="480.46" y1="211.6" x2="480.46" y2="209.60" stroke="#222" stroke-width="1"/><line x1="533.90" y1="211.6" x2="533.90" y2="209.60" stroke="#222" stroke-width="1"/><line x1="587.34" y1="211.6" x2="587.34" y2="209.60" stroke="#222" stroke-width="1"/><line x1="640.78" y1="211.6" x2="640.78" y2="209.60" stroke="#222" stroke-width="1"/><rect x="400.3" y="18.2" width="282.70" height="193.40" fill="none" stroke="#333" stroke-width="1.5"/><line x1="54.4" y1="435.59" x2="58.00" y2="435.59" stroke="#222" stroke-width="1"/><text x="49.8" y="439.0" font-size="10" text-anchor="end" fill="#333">5</text><line x1="54.4" y1="391.57" x2="58.00" y2="391.57" stroke="#222" stroke-width="1"/><text x="49.8" y="395.0" font-size="10" text-anchor="end" fill="#333">10</text><line x1="54.4" y1="347.55" x2="58.00" y2="347.55" stroke="#222" stroke-width="1"/><text x="49.8" y="350.9" font-size="10" text-anchor="end" fill="#333">15</text><line x1="54.4" y1="303.52" x2="58.00" y2="303.52" stroke="#222" stroke-width="1"/><text x="49.8" y="306.9" font-size="10" text-anchor="end" fill="#333">20</text><line x1="54.4" y1="259.50" x2="58.00" y2="259.50" stroke="#222" stroke-width="1"/><text x="49.8" y="262.9" font-size="10" text-anchor="end" fill="#333">25</text><line x1="54.40" y1="453.2" x2="54.40" y2="449.60" stroke="#222" stroke-width="1"/><text x="54.4" y="466.0" font-size="10" text-anchor="middle" fill="#333">0</text><line x1="105.84" y1="453.2" x2="105.84" y2="449.60" stroke="#222" stroke-width="1"/><text x="105.8" y="466.0" font-size="10" text-anchor="middle" fill="#333">200</text><line x1="157.27" y1="453.2" x2="157.27" y2="449.60" stroke="#222" stroke-width="1"/><text x="157.3" y="466.0" font-size="10" text-anchor="middle" fill="#333">400</text><line x1="208.71" y1="453.2" x2="208.71" y2="449.60" stroke="#222" stroke-width="1"/><text x="208.7" y="466.0" font-size="10" text-anchor="middle" fill="#333">600</text><line x1="260.15" y1="453.2" x2="260.15" y2="449.60" stroke="#222" stroke-width="1"/><text x="260.1" y="466.0" font-size="10" text-anchor="middle" fill="#333">800</text><line x1="311.58" y1="453.2" x2="311.58" y2="449.60" stroke="#222" stroke-width="1"/><text x="311.6" y="466.0" font-size="10" text-anchor="middle" fill="#333">1000</text><line x1="80.12" y1="453.2" x2="80.12" y2="451.20" stroke="#222" stroke-width="1"/><line x1="131.55" y1="453.2" x2="131.55" y2="451.20" stroke="#222" stroke-width="1"/><line x1="182.99" y1="453.2" x2="182.99" y2="451.20" stroke="#222" stroke-width="1"/><line x1="234.43" y1="453.2" x2="234.43" y2="451.20" stroke="#222" stroke-width="1"/><line x1="285.86" y1="453.2" x2="285.86" y2="451.20" stroke="#222" stroke-width="1"/><rect x="54.4" y="259.5" width="282.90" height="193.70" fill="none" stroke="#333" stroke-width="1.5"/><line x1="398.9" y1="453.20" x2="402.50" y2="453.20" stroke="#222" stroke-width="1"/><text x="394.3" y="456.6" font-size="10" text-anchor="end" fill="#333">0</text><line x1="398.9" y1="428.99" x2="402.50" y2="428.99" stroke="#222" stroke-width="1"/><text x="394.3" y="432.4" font-size="10" text-anchor="end" fill="#333">2000</text><line x1="398.9" y1="404.77" x2="402.50" y2="404.77" stroke="#222" stroke-width="1"/><text x="394.3" y="408.2" font-size="10" text-anchor="end" fill="#333">4000</text><line x1="398.9" y1="380.56" x2="402.50" y2="380.56" stroke="#222" stroke-width="1"/><text x="394.3" y="384.0" font-size="10" text-anchor="end" fill="#333">6000</text><line x1="398.9" y1="356.35" x2="402.50" y2="356.35" stroke="#222" stroke-width="1"/><text x="394.3" y="359.8" font-size="10" text-anchor="end" fill="#333">8000</text><line x1="398.9" y1="332.14" x2="402.50" y2="332.14" stroke="#222" stroke-width="1"/><text x="394.3" y="335.5" font-size="10" text-anchor="end" fill="#333">10000</text><line x1="398.9" y1="307.92" x2="402.50" y2="307.92" stroke="#222" stroke-width="1"/><text x="394.3" y="311.3" font-size="10" text-anchor="end" fill="#333">12000</text><line x1="398.9" y1="283.71" x2="402.50" y2="283.71" stroke="#222" stroke-width="1"/><text x="394.3" y="287.1" font-size="10" text-anchor="end" fill="#333">14000</text><line x1="398.9" y1="259.50" x2="402.50" y2="259.50" stroke="#222" stroke-width="1"/><text x="394.3" y="262.9" font-size="10" text-anchor="end" fill="#333">16000</text><line x1="398.9" y1="441.09" x2="400.90" y2="441.09" stroke="#222" stroke-width="1"/><line x1="398.9" y1="416.88" x2="400.90" y2="416.88" stroke="#222" stroke-width="1"/><line x1="398.9" y1="392.67" x2="400.90" y2="392.67" stroke="#222" stroke-width="1"/><line x1="398.9" y1="368.46" x2="400.90" y2="368.46" stroke="#222" stroke-width="1"/><line x1="398.9" y1="344.24" x2="400.90" y2="344.24" stroke="#222" stroke-width="1"/><line x1="398.9" y1="320.03" x2="400.90" y2="320.03" stroke="#222" stroke-width="1"/><line x1="398.9" y1="295.82" x2="400.90" y2="295.82" stroke="#222" stroke-width="1"/><line x1="398.9" y1="271.61" x2="400.90" y2="271.61" stroke="#222" stroke-width="1"/><line x1="398.90" y1="453.2" x2="398.90" y2="449.60" stroke="#222" stroke-width="1"/><text x="398.9" y="466.0" font-size="10" text-anchor="middle" fill="#333">0</text><line x1="453.86" y1="453.2" x2="453.86" y2="449.60" stroke="#222" stroke-width="1"/><text x="453.9" y="466.0" font-size="10" text-anchor="middle" fill="#333">200</text><line x1="508.82" y1="453.2" x2="508.82" y2="449.60" stroke="#222" stroke-width="1"/><text x="508.8" y="466.0" font-size="10" text-anchor="middle" fill="#333">400</text><line x1="563.78" y1="453.2" x2="563.78" y2="449.60" stroke="#222" stroke-width="1"/><text x="563.8" y="466.0" font-size="10" text-anchor="middle" fill="#333">600</text><line x1="618.74" y1="453.2" x2="618.74" y2="449.60" stroke="#222" stroke-width="1"/><text x="618.7" y="466.0" font-size="10" text-anchor="middle" fill="#333">800</text><line x1="673.71" y1="453.2" x2="673.71" y2="449.60" stroke="#222" stroke-width="1"/><text x="673.7" y="466.0" font-size="10" text-anchor="middle" fill="#333">1000</text><line x1="426.38" y1="453.2" x2="426.38" y2="451.20" stroke="#222" stroke-width="1"/><line x1="481.34" y1="453.2" x2="481.34" y2="451.20" stroke="#222" stroke-width="1"/><line x1="536.30" y1="453.2" x2="536.30" y2="451.20" stroke="#222" stroke-width="1"/><line x1="591.26" y1="453.2" x2="591.26" y2="451.20" stroke="#222" stroke-width="1"/><line x1="646.22" y1="453.2" x2="646.22" y2="451.20" stroke="#222" stroke-width="1"/><rect x="398.9" y="259.5" width="282.50" height="193.70" fill="none" stroke="#333" stroke-width="1.5"/><rect x="61.9" y="21.5" width="43.3" height="87.0" fill="#fff" stroke="#444" stroke-width="1"/><line x1="63.2" y1="28.5" x2="85.8" y2="28.5" stroke="#515151" stroke-width="1.0" opacity="0.9"/><text x="88.3" y="31.8" font-size="10" text-anchor="start" fill="#222">P8</text><line x1="63.2" y1="40.9" x2="85.8" y2="40.9" stroke="#F14040" stroke-width="1.3" opacity="0.9"/><text x="88.3" y="44.2" font-size="10" text-anchor="start" fill="#222">P9</text><line x1="63.2" y1="53.3" x2="85.8" y2="53.3" stroke="#1A6FDF" stroke-width="1.3" opacity="0.9"/><text x="88.3" y="56.6" font-size="10" text-anchor="start" fill="#222">P10</text><line x1="63.2" y1="65.6" x2="85.8" y2="65.6" stroke="#37AD6B" stroke-width="1.3" opacity="0.9"/><text x="88.3" y="68.9" font-size="10" text-anchor="start" fill="#222">P11</text><line x1="63.2" y1="78.0" x2="85.8" y2="78.0" stroke="#B177DE" stroke-width="1.3" opacity="0.9"/><text x="88.3" y="81.3" font-size="10" text-anchor="start" fill="#222">P12</text><line x1="63.2" y1="90.4" x2="85.8" y2="90.4" stroke="#CC9900" stroke-width="1.3" opacity="0.9"/><text x="88.3" y="93.7" font-size="10" text-anchor="start" fill="#222">P13</text><line x1="63.2" y1="102.8" x2="85.8" y2="102.8" stroke="#00CBCC" stroke-width="1.3" opacity="0.9"/><text x="88.3" y="106.1" font-size="10" text-anchor="start" fill="#222">P14</text><rect x="407.8" y="21.5" width="43.3" height="87.0" fill="#fff" stroke="#444" stroke-width="1"/><line x1="409.0" y1="28.5" x2="431.7" y2="28.5" stroke="#515151" stroke-width="1.0" opacity="0.9"/><text x="434.2" y="31.8" font-size="10" text-anchor="start" fill="#222">P8</text><line x1="409.0" y1="40.9" x2="431.7" y2="40.9" stroke="#F14040" stroke-width="1.3" opacity="0.9"/><text x="434.2" y="44.2" font-size="10" text-anchor="start" fill="#222">P9</text><line x1="409.0" y1="53.3" x2="431.7" y2="53.3" stroke="#1A6FDF" stroke-width="1.3" opacity="0.9"/><text x="434.2" y="56.6" font-size="10" text-anchor="start" fill="#222">P10</text><line x1="409.0" y1="65.6" x2="431.7" y2="65.6" stroke="#37AD6B" stroke-width="1.3" opacity="0.9"/><text x="434.2" y="68.9" font-size="10" text-anchor="start" fill="#222">P11</text><line x1="409.0" y1="78.0" x2="431.7" y2="78.0" stroke="#B177DE" stroke-width="1.3" opacity="0.9"/><text x="434.2" y="81.3" font-size="10" text-anchor="start" fill="#222">P12</text><line x1="409.0" y1="90.4" x2="431.7" y2="90.4" stroke="#CC9900" stroke-width="1.3" opacity="0.9"/><text x="434.2" y="93.7" font-size="10" text-anchor="start" fill="#222">P13</text><line x1="409.0" y1="102.8" x2="431.7" y2="102.8" stroke="#00CBCC" stroke-width="1.3" opacity="0.9"/><text x="434.2" y="106.1" font-size="10" text-anchor="start" fill="#222">P14</text><rect x="62.6" y="352.4" width="43.1" height="86.9" fill="#fff" stroke="#444" stroke-width="1"/><line x1="63.8" y1="359.3" x2="86.7" y2="359.3" stroke="#515151" stroke-width="1.0" opacity="0.9"/><text x="88.9" y="362.6" font-size="10" text-anchor="start" fill="#222">P8</text><line x1="63.8" y1="371.7" x2="86.7" y2="371.7" stroke="#F14040" stroke-width="1.3" opacity="0.9"/><text x="88.9" y="375.0" font-size="10" text-anchor="start" fill="#222">P9</text><line x1="63.8" y1="384.0" x2="86.7" y2="384.0" stroke="#1A6FDF" stroke-width="1.3" opacity="0.9"/><text x="88.9" y="387.3" font-size="10" text-anchor="start" fill="#222">P10</text><line x1="63.8" y1="396.4" x2="86.7" y2="396.4" stroke="#37AD6B" stroke-width="1.3" opacity="0.9"/><text x="88.9" y="399.7" font-size="10" text-anchor="start" fill="#222">P11</text><line x1="63.8" y1="408.8" x2="86.7" y2="408.8" stroke="#B177DE" stroke-width="1.3" opacity="0.9"/><text x="88.9" y="412.1" font-size="10" text-anchor="start" fill="#222">P12</text><line x1="63.8" y1="421.1" x2="86.7" y2="421.1" stroke="#CC9900" stroke-width="1.3" opacity="0.9"/><text x="88.9" y="424.4" font-size="10" text-anchor="start" fill="#222">P13</text><line x1="63.8" y1="433.5" x2="86.7" y2="433.5" stroke="#00CBCC" stroke-width="1.3" opacity="0.9"/><text x="88.9" y="436.8" font-size="10" text-anchor="start" fill="#222">P14</text><rect x="406.5" y="262.9" width="43.2" height="87.1" fill="#fff" stroke="#444" stroke-width="1"/><line x1="407.8" y1="269.9" x2="430.3" y2="269.9" stroke="#9a9a9a" stroke-width="2.0" opacity="0.9"/><text x="432.7" y="273.2" font-size="10" text-anchor="start" fill="#222">P8</text><line x1="407.8" y1="282.3" x2="430.3" y2="282.3" stroke="#F14040" stroke-width="1.3" opacity="0.9"/><text x="432.7" y="285.6" font-size="10" text-anchor="start" fill="#222">P9</text><line x1="407.8" y1="294.7" x2="430.3" y2="294.7" stroke="#1A6FDF" stroke-width="1.3" opacity="0.9"/><text x="432.7" y="298.0" font-size="10" text-anchor="start" fill="#222">P10</text><line x1="407.8" y1="307.1" x2="430.3" y2="307.1" stroke="#37AD6B" stroke-width="1.3" opacity="0.9"/><text x="432.7" y="310.4" font-size="10" text-anchor="start" fill="#222">P11</text><line x1="407.8" y1="319.5" x2="430.3" y2="319.5" stroke="#B177DE" stroke-width="1.3" opacity="0.9"/><text x="432.7" y="322.8" font-size="10" text-anchor="start" fill="#222">P12</text><line x1="407.8" y1="331.9" x2="430.3" y2="331.9" stroke="#CC9900" stroke-width="1.3" opacity="0.9"/><text x="432.7" y="335.2" font-size="10" text-anchor="start" fill="#222">P13</text><line x1="407.8" y1="344.3" x2="430.3" y2="344.3" stroke="#00CBCC" stroke-width="1.3" opacity="0.9"/><text x="432.7" y="347.6" font-size="10" text-anchor="start" fill="#222">P14</text><text x="193.8" y="96.8" font-size="10" text-anchor="start" fill="#222">Flashover (811 s)</text><line x1="244.1" y1="105.9" x2="257.4" y2="119.8" stroke="#111" stroke-width="1.1"/><polygon points="260.5,123.1 256.1,121.1 258.7,118.6" fill="#111"/><text x="540.5" y="97.1" font-size="10" text-anchor="start" fill="#222">Flashover (811 s)</text><line x1="590.8" y1="105.9" x2="604.4" y2="120.1" stroke="#111" stroke-width="1.1"/><polygon points="607.5,123.4 603.1,121.4 605.7,118.9" fill="#111"/><text x="161.9" y="371.9" font-size="10" text-anchor="start" fill="#222">Flashover (811 s)</text><line x1="236.2" y1="362.2" x2="251.0" y2="352.5" stroke="#111" stroke-width="1.1"/><polygon points="254.8,350.0 252.0,354.0 250.0,351.0" fill="#111"/><text x="545.2" y="338.0" font-size="10" text-anchor="start" fill="#222">Flashover (811 s)</text><line x1="595.7" y1="347.6" x2="608.8" y2="361.4" stroke="#111" stroke-width="1.1"/><polygon points="611.9,364.7 607.5,362.7 610.1,360.2" fill="#111"/><text x="197.9" y="240.8" font-size="12" text-anchor="middle" fill="#111">Time (s)</text><text x="544.0" y="240.8" font-size="12" text-anchor="middle" fill="#111">Time (s)</text><text x="197.9" y="481.8" font-size="12" text-anchor="middle" fill="#111">Time (s)</text><text x="542.6" y="481.8" font-size="12" text-anchor="middle" fill="#111">Time (s)</text><text transform="translate(21.4,123.0) rotate(-90)" font-size="12" text-anchor="middle" fill="#111">CO (ppm)</text><text transform="translate(361.0,124.2) rotate(-90)" font-size="12" text-anchor="middle" fill="#111">CO<tspan font-size="8" dy="3">2</tspan><tspan dy="-3"> (ppm)</tspan></text><text transform="translate(29.6,358.9) rotate(-90)" font-size="12" text-anchor="middle" fill="#111">O<tspan font-size="8" dy="3">2</tspan><tspan dy="-3"> (%)</tspan></text><text transform="translate(364.2,362.2) rotate(-90)" font-size="12" text-anchor="middle" fill="#111">Smoke (ppm)</text><text x="0.7" y="23.6" font-size="19" text-anchor="start" fill="#111">(a)</text><text x="344.2" y="23.8" font-size="19" text-anchor="start" fill="#111">(b)</text><text x="6.4" y="265.4" font-size="19" text-anchor="start" fill="#111">(c)</text><text x="344.3" y="265.3" font-size="19" text-anchor="start" fill="#111">(d)</text></svg>
</body></html>
